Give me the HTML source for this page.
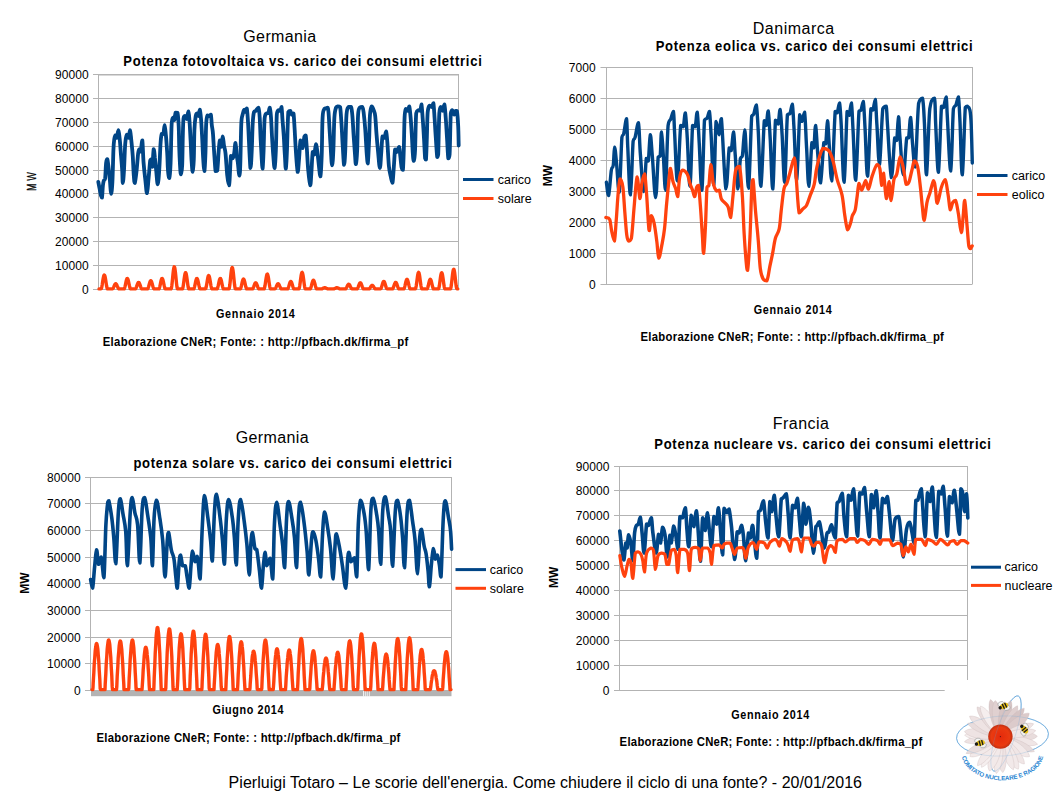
<!DOCTYPE html>
<html><head><meta charset="utf-8"><style>
html,body{margin:0;padding:0;background:#fff;}
svg{display:block;font-family:"Liberation Sans", sans-serif;}
</style></head><body>
<svg width="1058" height="794" viewBox="0 0 1058 794">
<rect width="1058" height="794" fill="#fff"/>
<text x="243.3" y="41.8" font-size="16" font-weight="400" text-anchor="start" letter-spacing="0.38" fill="#000" >Germania</text>
<text x="0" y="0" font-size="14" font-weight="700" textLength="385.48" lengthAdjust="spacing" transform="translate(123.3 65.7) scale(0.93 1)">Potenza fotovoltaica vs. carico dei consumi elettrici</text>
<text x="88.8" y="78.50" font-size="12" font-weight="400" text-anchor="end" letter-spacing="0.1" fill="#000" >90000</text>
<text x="88.8" y="102.50" font-size="12" font-weight="400" text-anchor="end" letter-spacing="0.1" fill="#000" >80000</text>
<text x="88.8" y="126.50" font-size="12" font-weight="400" text-anchor="end" letter-spacing="0.1" fill="#000" >70000</text>
<text x="88.8" y="150.50" font-size="12" font-weight="400" text-anchor="end" letter-spacing="0.1" fill="#000" >60000</text>
<text x="88.8" y="174.50" font-size="12" font-weight="400" text-anchor="end" letter-spacing="0.1" fill="#000" >50000</text>
<text x="88.8" y="197.50" font-size="12" font-weight="400" text-anchor="end" letter-spacing="0.1" fill="#000" >40000</text>
<text x="88.8" y="221.50" font-size="12" font-weight="400" text-anchor="end" letter-spacing="0.1" fill="#000" >30000</text>
<text x="88.8" y="245.50" font-size="12" font-weight="400" text-anchor="end" letter-spacing="0.1" fill="#000" >20000</text>
<text x="88.8" y="269.50" font-size="12" font-weight="400" text-anchor="end" letter-spacing="0.1" fill="#000" >10000</text>
<text x="88.8" y="293.50" font-size="12" font-weight="400" text-anchor="end" letter-spacing="0.1" fill="#000" >0</text>
<g stroke="#b3b3b3" stroke-width="1"><line x1="93" y1="74.5" x2="458.5" y2="74.5"/><line x1="93" y1="98.5" x2="458.5" y2="98.5"/><line x1="93" y1="122.5" x2="458.5" y2="122.5"/><line x1="93" y1="146.5" x2="458.5" y2="146.5"/><line x1="93" y1="170.5" x2="458.5" y2="170.5"/><line x1="93" y1="193.5" x2="458.5" y2="193.5"/><line x1="93" y1="217.5" x2="458.5" y2="217.5"/><line x1="93" y1="241.5" x2="458.5" y2="241.5"/><line x1="93" y1="265.5" x2="458.5" y2="265.5"/><line x1="93" y1="289.5" x2="458.5" y2="289.5"/><line x1="98" y1="75.5" x2="458.5" y2="75.5" stroke-opacity="0.5"/><line x1="98.5" y1="74" x2="98.5" y2="290"/><line x1="458.5" y1="74" x2="458.5" y2="289"/></g>
<line x1="463" y1="179.5" x2="493.5" y2="179.5" stroke="#004586" stroke-width="3"/>
<line x1="463" y1="198.5" x2="493.5" y2="198.5" stroke="#ff420e" stroke-width="3"/>
<text x="497.7" y="183.7" font-size="12.5" font-weight="400" text-anchor="start" letter-spacing="0" fill="#000" >carico</text>
<text x="497.7" y="202.7" font-size="12.5" font-weight="400" text-anchor="start" letter-spacing="0" fill="#000" >solare</text>
<text x="0" y="0" font-size="13.5" font-weight="700" textLength="98.50" lengthAdjust="spacing" transform="translate(215.9 318) scale(0.8 1)">Gennaio 2014</text>
<text x="0" y="0" font-size="13.5" font-weight="700" textLength="363.69" lengthAdjust="spacing" transform="translate(102.7 346) scale(0.84 1)">Elaborazione CNeR; Fonte: : http://pfbach.dk/firma_pf</text>
<text font-size="13" text-anchor="middle" stroke="#000" stroke-width="0.45" transform="translate(36 187.4) rotate(-90) scale(0.64 1)">M</text>
<text font-size="13" text-anchor="middle" stroke="#000" stroke-width="0.2" transform="translate(36 176.4) rotate(-90) scale(0.7 1)">W</text>
<text x="752.8" y="33.9" font-size="16" font-weight="400" text-anchor="start" letter-spacing="0.5" fill="#000" >Danimarca</text>
<text x="0" y="0" font-size="14" font-weight="700" textLength="340.86" lengthAdjust="spacing" transform="translate(655.7 50.8) scale(0.93 1)">Potenza eolica vs. carico dei consumi elettrici</text>
<text x="595.8" y="71.50" font-size="12" font-weight="400" text-anchor="end" letter-spacing="0.1" fill="#000" >7000</text>
<text x="595.8" y="102.50" font-size="12" font-weight="400" text-anchor="end" letter-spacing="0.1" fill="#000" >6000</text>
<text x="595.8" y="133.50" font-size="12" font-weight="400" text-anchor="end" letter-spacing="0.1" fill="#000" >5000</text>
<text x="595.8" y="164.50" font-size="12" font-weight="400" text-anchor="end" letter-spacing="0.1" fill="#000" >4000</text>
<text x="595.8" y="195.50" font-size="12" font-weight="400" text-anchor="end" letter-spacing="0.1" fill="#000" >3000</text>
<text x="595.8" y="226.50" font-size="12" font-weight="400" text-anchor="end" letter-spacing="0.1" fill="#000" >2000</text>
<text x="595.8" y="257.50" font-size="12" font-weight="400" text-anchor="end" letter-spacing="0.1" fill="#000" >1000</text>
<text x="595.8" y="288.50" font-size="12" font-weight="400" text-anchor="end" letter-spacing="0.1" fill="#000" >0</text>
<g stroke="#b3b3b3" stroke-width="1"><line x1="600.5" y1="67.5" x2="972.5" y2="67.5"/><line x1="600.5" y1="98.5" x2="972.5" y2="98.5"/><line x1="600.5" y1="129.5" x2="972.5" y2="129.5"/><line x1="600.5" y1="160.5" x2="972.5" y2="160.5"/><line x1="600.5" y1="191.5" x2="972.5" y2="191.5"/><line x1="600.5" y1="222.5" x2="972.5" y2="222.5"/><line x1="600.5" y1="253.5" x2="972.5" y2="253.5"/><line x1="600.5" y1="284.5" x2="972.5" y2="284.5"/><line x1="606.5" y1="67" x2="606.5" y2="285"/><line x1="972.5" y1="67" x2="972.5" y2="284"/></g>
<line x1="977" y1="175.5" x2="1007.5" y2="175.5" stroke="#004586" stroke-width="3"/>
<line x1="977" y1="194.5" x2="1007.5" y2="194.5" stroke="#ff420e" stroke-width="3"/>
<text x="1011.8" y="179.7" font-size="12.5" font-weight="400" text-anchor="start" letter-spacing="0" fill="#000" >carico</text>
<text x="1011.8" y="198.7" font-size="12.5" font-weight="400" text-anchor="start" letter-spacing="0" fill="#000" >eolico</text>
<text x="0" y="0" font-size="13.5" font-weight="700" textLength="97.50" lengthAdjust="spacing" transform="translate(753.7 313.7) scale(0.8 1)">Gennaio 2014</text>
<text x="0" y="0" font-size="13.5" font-weight="700" textLength="361.19" lengthAdjust="spacing" transform="translate(640.5 341.2) scale(0.84 1)">Elaborazione CNeR; Fonte: : http://pfbach.dk/firma_pf</text>
<text x="0" y="0" font-size="12" font-weight="700" text-anchor="middle" transform="translate(547.6 175.5) rotate(-90)" dominant-baseline="central">MW</text>
<text x="235.8" y="442.5" font-size="16" font-weight="400" text-anchor="start" letter-spacing="0.36" fill="#000" >Germania</text>
<text x="0" y="0" font-size="14" font-weight="700" textLength="342.47" lengthAdjust="spacing" transform="translate(133.4 467.5) scale(0.93 1)">potenza solare vs. carico dei consumi elettrici</text>
<text x="80.8" y="481.50" font-size="12" font-weight="400" text-anchor="end" letter-spacing="0.1" fill="#000" >80000</text>
<text x="80.8" y="507.50" font-size="12" font-weight="400" text-anchor="end" letter-spacing="0.1" fill="#000" >70000</text>
<text x="80.8" y="534.50" font-size="12" font-weight="400" text-anchor="end" letter-spacing="0.1" fill="#000" >60000</text>
<text x="80.8" y="561.50" font-size="12" font-weight="400" text-anchor="end" letter-spacing="0.1" fill="#000" >50000</text>
<text x="80.8" y="587.50" font-size="12" font-weight="400" text-anchor="end" letter-spacing="0.1" fill="#000" >40000</text>
<text x="80.8" y="614.50" font-size="12" font-weight="400" text-anchor="end" letter-spacing="0.1" fill="#000" >30000</text>
<text x="80.8" y="641.50" font-size="12" font-weight="400" text-anchor="end" letter-spacing="0.1" fill="#000" >20000</text>
<text x="80.8" y="667.50" font-size="12" font-weight="400" text-anchor="end" letter-spacing="0.1" fill="#000" >10000</text>
<text x="80.8" y="694.50" font-size="12" font-weight="400" text-anchor="end" letter-spacing="0.1" fill="#000" >0</text>
<g stroke="#b3b3b3" stroke-width="1"><line x1="85" y1="477.5" x2="451.5" y2="477.5"/><line x1="85" y1="503.5" x2="451.5" y2="503.5"/><line x1="85" y1="530.5" x2="451.5" y2="530.5"/><line x1="85" y1="557.5" x2="451.5" y2="557.5"/><line x1="85" y1="583.5" x2="451.5" y2="583.5"/><line x1="85" y1="610.5" x2="451.5" y2="610.5"/><line x1="85" y1="637.5" x2="451.5" y2="637.5"/><line x1="85" y1="663.5" x2="451.5" y2="663.5"/><line x1="85" y1="690.5" x2="451.5" y2="690.5"/><line x1="90.5" y1="477" x2="90.5" y2="691"/><line x1="451.5" y1="477" x2="451.5" y2="690"/></g>
<line x1="455.5" y1="569.6" x2="486" y2="569.6" stroke="#004586" stroke-width="3"/>
<line x1="455.5" y1="588.3" x2="486" y2="588.3" stroke="#ff420e" stroke-width="3"/>
<text x="489.8" y="573.8" font-size="12.5" font-weight="400" text-anchor="start" letter-spacing="0" fill="#000" >carico</text>
<text x="489.8" y="592.5" font-size="12.5" font-weight="400" text-anchor="start" letter-spacing="0" fill="#000" >solare</text>
<text x="0" y="0" font-size="13.5" font-weight="700" textLength="88.62" lengthAdjust="spacing" transform="translate(212.5 714) scale(0.8 1)">Giugno 2014</text>
<text x="0" y="0" font-size="13.5" font-weight="700" textLength="361.79" lengthAdjust="spacing" transform="translate(96.5 741.5) scale(0.84 1)">Elaborazione CNeR; Fonte: : http://pfbach.dk/firma_pf</text>
<text x="0" y="0" font-size="12" font-weight="700" text-anchor="middle" transform="translate(24.6 583.2) rotate(-90)" dominant-baseline="central">MW</text>
<text x="772.8" y="428.7" font-size="16" font-weight="400" text-anchor="start" letter-spacing="0.45" fill="#000" >Francia</text>
<text x="0" y="0" font-size="14" font-weight="700" textLength="362.04" lengthAdjust="spacing" transform="translate(654.2 448.6) scale(0.93 1)">Potenza nucleare vs. carico dei consumi elettrici</text>
<text x="609.5999999999999" y="470.50" font-size="12" font-weight="400" text-anchor="end" letter-spacing="0.1" fill="#000" >90000</text>
<text x="609.5999999999999" y="494.50" font-size="12" font-weight="400" text-anchor="end" letter-spacing="0.1" fill="#000" >80000</text>
<text x="609.5999999999999" y="519.50" font-size="12" font-weight="400" text-anchor="end" letter-spacing="0.1" fill="#000" >70000</text>
<text x="609.5999999999999" y="544.50" font-size="12" font-weight="400" text-anchor="end" letter-spacing="0.1" fill="#000" >60000</text>
<text x="609.5999999999999" y="569.50" font-size="12" font-weight="400" text-anchor="end" letter-spacing="0.1" fill="#000" >50000</text>
<text x="609.5999999999999" y="594.50" font-size="12" font-weight="400" text-anchor="end" letter-spacing="0.1" fill="#000" >40000</text>
<text x="609.5999999999999" y="619.50" font-size="12" font-weight="400" text-anchor="end" letter-spacing="0.1" fill="#000" >30000</text>
<text x="609.5999999999999" y="644.50" font-size="12" font-weight="400" text-anchor="end" letter-spacing="0.1" fill="#000" >20000</text>
<text x="609.5999999999999" y="669.50" font-size="12" font-weight="400" text-anchor="end" letter-spacing="0.1" fill="#000" >10000</text>
<text x="609.5999999999999" y="694.50" font-size="12" font-weight="400" text-anchor="end" letter-spacing="0.1" fill="#000" >0</text>
<g stroke="#b3b3b3" stroke-width="1"><line x1="614" y1="466.5" x2="967.5" y2="466.5"/><line x1="614" y1="490.5" x2="967.5" y2="490.5"/><line x1="614" y1="515.5" x2="967.5" y2="515.5"/><line x1="614" y1="540.5" x2="967.5" y2="540.5"/><line x1="614" y1="565.5" x2="967.5" y2="565.5"/><line x1="614" y1="590.5" x2="967.5" y2="590.5"/><line x1="614" y1="615.5" x2="967.5" y2="615.5"/><line x1="614" y1="640.5" x2="967.5" y2="640.5"/><line x1="614" y1="665.5" x2="967.5" y2="665.5"/><line x1="614" y1="690.5" x2="944.7" y2="690.5"/><line x1="619.5" y1="466" x2="619.5" y2="691"/><line x1="967.5" y1="466" x2="967.5" y2="680"/></g>
<line x1="971" y1="567.2" x2="1001" y2="567.2" stroke="#004586" stroke-width="3"/>
<line x1="971" y1="585.4" x2="1001" y2="585.4" stroke="#ff420e" stroke-width="3"/>
<text x="1004.6" y="571.4" font-size="12.5" font-weight="400" text-anchor="start" letter-spacing="0" fill="#000" >carico</text>
<text x="1004.6" y="589.6" font-size="12.5" font-weight="400" text-anchor="start" letter-spacing="0" fill="#000" >nucleare</text>
<text x="0" y="0" font-size="13.5" font-weight="700" textLength="97.50" lengthAdjust="spacing" transform="translate(731.2 718.7) scale(0.8 1)">Gennaio 2014</text>
<text x="0" y="0" font-size="13.5" font-weight="700" textLength="360.36" lengthAdjust="spacing" transform="translate(619.6 746.2) scale(0.84 1)">Elaborazione CNeR; Fonte: : http://pfbach.dk/firma_pf</text>
<text x="0" y="0" font-size="12" font-weight="700" text-anchor="middle" transform="translate(553.5 577.4) rotate(-90)" dominant-baseline="central">MW</text>
<text x="228.6" y="787.9" font-size="16" font-weight="400" text-anchor="start" letter-spacing="0.03" fill="#000" >Pierluigi Totaro – Le scorie dell'energia. Come chiudere il ciclo di una fonte? - 20/01/2016</text>
<path d="M98.3,181.9 C98.5,183.0 99.0,185.7 99.5,188.2 C100.0,190.7 100.5,194.0 101.0,195.7 C101.5,197.4 101.7,197.6 102.0,197.6 C102.3,195.8 102.6,188.7 102.9,185.6 C103.2,182.5 103.4,181.8 103.8,180.6 C104.2,179.4 104.7,180.6 105.1,178.7 C105.5,175.5 105.7,166.5 106.1,163.0 C106.5,159.5 106.8,159.2 107.3,159.2 C107.8,160.1 108.1,164.1 108.6,168.0 C109.1,171.9 109.5,176.0 109.9,180.6 C110.4,185.2 110.6,193.6 111.1,193.8 C111.5,193.8 112.0,189.7 112.4,181.9 C112.8,174.1 113.1,158.1 113.4,150.4 C113.7,142.7 113.9,141.7 114.3,139.0 C114.7,136.3 115.0,135.5 115.5,135.3 C116.0,135.3 116.3,137.8 116.8,137.8 C117.3,136.9 117.9,130.2 118.4,130.2 C118.9,130.4 119.2,134.7 119.7,139.0 C120.2,143.3 120.5,148.5 120.9,154.2 C121.4,159.9 121.9,165.3 122.2,170.5 C122.5,175.7 122.5,183.1 122.8,183.1 C123.1,183.1 123.6,177.5 124.0,170.5 C124.4,163.5 124.7,150.6 125.2,144.1 C125.7,137.6 126.3,135.7 126.9,134.6 C127.5,134.6 127.9,137.8 128.5,137.8 C129.1,137.0 129.5,130.2 130.0,130.2 C130.5,130.6 130.8,135.5 131.3,140.3 C131.8,145.1 132.4,150.3 132.8,156.7 C133.2,163.1 133.4,170.8 133.8,175.6 C134.2,180.4 134.3,183.1 134.8,183.1 C135.3,182.2 136.0,175.9 136.6,170.5 C137.2,165.1 137.7,156.8 138.2,152.9 C138.7,149.1 139.1,149.3 139.5,149.1 C139.9,149.1 140.2,151.6 140.7,151.6 C141.2,150.0 141.8,140.3 142.3,140.3 C142.8,142.4 143.0,155.7 143.6,163.0 C144.2,170.3 144.8,175.2 145.4,180.6 C146.0,186.0 146.4,193.2 147.0,193.2 C147.6,192.8 148.0,184.0 148.6,178.1 C149.2,172.2 149.7,163.9 150.2,160.5 C150.7,159.2 151.0,159.2 151.4,159.2 C151.8,160.3 152.0,166.8 152.4,166.8 C152.8,165.0 153.2,150.7 153.7,149.1 C154.1,149.1 154.5,154.0 154.9,157.9 C155.3,161.8 155.7,165.7 156.2,170.5 C156.7,175.3 157.2,184.4 157.7,184.4 C158.2,184.4 158.7,177.8 159.2,170.5 C159.7,163.2 160.1,150.7 160.5,144.1 C160.9,137.5 161.2,135.8 161.7,134.0 C162.2,134.0 162.9,134.0 163.4,134.0 C163.9,132.4 164.2,125.2 164.6,125.2 C165.0,125.4 165.4,130.3 165.9,135.3 C166.4,140.3 166.8,146.6 167.2,152.9 C167.6,159.2 167.6,166.0 168.0,170.5 C168.4,175.0 168.8,178.1 169.3,178.1 C169.8,176.8 170.2,172.5 170.6,163.0 C171.0,153.5 171.2,133.4 171.6,125.2 C172.0,117.6 172.6,118.5 173.1,117.6 C173.6,117.6 173.9,120.2 174.3,120.2 C174.8,119.3 175.0,113.9 175.6,112.6 C176.2,112.6 176.9,112.6 177.5,112.8 C178.1,115.3 178.4,120.2 178.7,126.3 C179.0,132.4 179.0,139.9 179.2,146.8 C179.4,153.7 179.7,159.8 180.0,164.8 C180.3,169.8 180.5,174.4 180.9,174.4 C181.3,174.4 181.9,171.6 182.2,164.8 C182.5,158.0 182.6,144.8 182.8,136.5 C183.0,128.2 183.1,122.3 183.5,118.6 C183.9,116.0 184.6,116.0 185.2,116.0 C185.8,116.1 186.1,119.2 186.7,119.2 C187.3,118.4 187.9,111.5 188.4,111.5 C188.9,111.8 189.1,115.9 189.5,121.1 C189.9,126.3 190.2,133.2 190.6,140.4 C191.0,147.6 191.2,155.2 191.6,160.9 C192.0,166.6 192.3,171.9 192.7,171.9 C193.1,171.7 193.5,167.2 193.8,159.7 C194.1,152.2 194.1,138.0 194.4,130.1 C194.7,122.2 195.2,119.0 195.7,116.0 C196.2,113.4 196.7,113.4 197.2,113.4 C197.7,113.4 198.0,116.0 198.5,116.0 C199.0,115.3 199.3,109.6 199.8,109.6 C200.3,110.3 200.7,115.0 201.1,119.8 C201.5,124.6 201.7,129.8 202.1,136.5 C202.5,143.2 202.7,150.9 203.1,157.1 C203.5,163.3 204.0,171.2 204.4,171.2 C204.8,170.3 205.2,160.6 205.5,152.0 C205.8,143.4 205.8,130.3 206.2,123.7 C206.6,117.1 207.0,116.7 207.5,115.3 C208.0,115.3 208.6,116.0 209.2,116.0 C209.8,115.9 210.4,114.7 210.9,114.7 C211.4,116.3 211.4,121.5 211.8,125.0 C212.2,128.5 212.6,128.7 213.0,134.0 C213.4,139.3 213.8,147.8 214.3,154.5 C214.8,161.2 215.1,168.3 215.6,171.2 C216.1,171.2 216.8,171.2 217.3,170.6 C217.8,167.1 218.2,157.4 218.6,152.0 C219.0,146.6 219.4,141.3 219.8,140.4 C220.2,140.4 220.6,146.8 221.1,146.8 C221.6,146.1 222.2,136.7 222.7,136.5 C223.2,136.5 223.5,142.5 224.0,145.5 C224.5,148.5 224.9,147.9 225.5,153.2 C226.1,158.5 226.6,169.3 227.2,175.1 C227.8,180.9 228.6,185.4 229.1,185.4 C229.6,184.5 229.8,175.2 230.1,169.9 C230.4,164.6 230.5,157.9 231.0,155.8 C231.5,155.8 232.1,158.4 232.7,158.4 C233.3,157.9 233.7,156.0 234.2,153.2 C234.7,150.4 235.0,143.0 235.5,143.0 C236.0,143.5 236.4,152.3 236.8,155.8 C237.2,159.3 237.3,158.6 237.8,162.2 C238.3,165.8 238.9,175.7 239.4,175.7 C239.9,175.5 240.1,170.3 240.4,160.9 C240.7,151.5 240.9,132.0 241.3,123.7 C241.7,115.4 242.1,117.2 242.6,114.7 C243.1,112.2 243.7,110.1 244.3,109.6 C244.9,109.6 245.4,112.1 245.8,112.1 C246.2,111.9 246.4,108.3 246.8,108.3 C247.2,110.4 247.5,113.0 248.1,123.7 C248.7,134.4 249.8,162.9 250.4,168.0 C251.0,168.0 251.3,160.0 251.7,152.0 C252.1,144.0 252.3,130.9 252.7,123.7 C253.1,116.5 253.4,114.4 254.0,112.1 C254.6,110.8 255.0,111.6 255.8,110.8 C256.6,110.0 257.7,107.6 258.4,107.6 C259.1,108.8 259.3,111.4 259.7,117.3 C260.1,123.2 260.3,133.0 260.7,140.4 C261.1,147.8 261.4,153.3 261.7,158.4 C262.0,163.5 262.3,168.7 262.6,168.7 C262.9,167.8 263.1,162.2 263.5,153.2 C263.9,144.2 264.1,125.8 264.6,118.6 C265.1,113.4 265.8,114.4 266.5,113.4 C267.2,112.8 267.8,113.4 268.4,112.8 C269.0,111.8 269.2,107.6 269.7,107.6 C270.2,108.4 270.6,112.1 271.0,117.3 C271.4,122.5 271.6,129.6 272.0,136.5 C272.4,143.4 272.8,150.1 273.3,155.8 C273.8,161.5 274.1,168.0 274.6,168.0 C275.1,166.8 275.5,159.0 275.9,149.4 C276.3,139.8 276.4,121.8 276.8,114.7 C277.2,110.2 277.8,110.9 278.4,110.2 C279.0,110.2 279.6,110.8 280.2,110.8 C280.8,110.2 281.1,107.0 281.5,107.0 C281.9,108.6 282.1,114.5 282.5,119.8 C282.9,125.1 283.4,130.0 283.8,136.5 C284.2,143.0 284.5,150.0 284.9,155.8 C285.3,161.6 285.4,168.7 285.8,168.7 C286.2,167.5 286.6,159.6 287.0,149.4 C287.4,139.2 287.7,119.0 288.3,112.1 C288.9,110.8 289.6,110.8 290.2,110.8 C290.8,111.3 291.2,114.2 291.8,114.7 C292.4,114.7 293.0,113.4 293.5,113.4 C294.0,116.2 294.2,122.9 294.7,130.1 C295.1,137.3 295.5,145.7 296.0,153.2 C296.5,160.7 297.2,170.7 297.7,171.9 C298.2,171.9 298.5,165.4 299.0,159.7 C299.5,154.0 299.9,142.5 300.5,140.4 C301.1,140.4 301.8,148.1 302.5,148.1 C303.2,147.4 303.8,138.8 304.4,136.5 C305.0,135.3 305.2,135.3 305.7,135.3 C306.1,137.6 306.4,143.2 306.9,149.4 C307.3,155.6 307.6,163.4 308.2,169.9 C308.8,176.4 309.6,184.9 310.2,185.4 C310.8,185.4 310.9,178.5 311.4,172.5 C311.8,166.5 312.2,155.2 312.7,152.0 C313.2,152.0 313.8,154.5 314.4,154.5 C315.0,153.1 315.3,144.4 315.9,144.2 C316.5,144.2 317.0,149.5 317.5,153.2 C318.0,156.9 318.3,160.6 318.8,164.8 C319.3,169.0 319.9,176.4 320.4,176.4 C320.9,174.8 321.3,166.4 321.7,155.8 C322.1,145.2 322.1,125.7 322.6,117.3 C323.1,108.9 323.8,110.5 324.4,108.9 C325.0,108.3 325.4,108.5 326.0,108.3 C326.6,108.1 327.2,107.6 327.6,107.6 C328.1,108.3 328.1,108.0 328.5,112.1 C328.9,116.1 329.2,123.4 329.6,130.1 C330.0,136.8 330.4,143.0 330.8,149.4 C331.2,155.8 331.6,165.4 332.1,165.4 C332.6,165.4 333.0,158.1 333.4,149.4 C333.8,140.7 333.9,124.8 334.4,117.3 C334.9,109.8 335.4,109.6 336.0,107.6 C336.6,106.4 337.2,106.5 337.9,106.4 C338.6,106.4 339.5,106.4 340.1,107.0 C340.7,109.9 340.9,115.5 341.4,122.4 C341.9,129.3 342.2,137.9 342.7,145.5 C343.2,153.1 343.6,163.6 344.0,164.8 C344.4,164.8 344.8,161.0 345.2,152.0 C345.6,143.0 345.9,122.8 346.5,114.7 C347.1,107.0 347.8,108.4 348.6,107.0 C349.4,107.0 350.4,107.0 351.1,107.0 C351.8,108.6 351.9,110.7 352.4,116.0 C352.9,121.3 353.2,129.6 353.7,136.5 C354.2,143.4 354.6,149.5 355.0,154.5 C355.4,159.5 355.5,164.2 355.9,164.2 C356.3,163.3 356.8,158.3 357.2,149.4 C357.6,140.5 357.6,122.2 358.1,114.7 C358.6,107.6 359.0,109.0 359.8,107.6 C360.6,107.0 361.6,107.0 362.3,107.0 C363.0,107.8 363.1,107.9 363.6,112.1 C364.1,116.3 364.8,122.9 365.3,130.1 C365.8,137.3 366.2,146.0 366.6,152.0 C367.1,158.0 367.4,163.5 367.8,163.5 C368.2,161.4 368.7,149.2 369.1,140.4 C369.5,131.6 369.5,120.8 370.0,114.7 C370.5,108.6 371.1,107.3 371.7,106.4 C372.3,106.4 372.9,107.9 373.5,109.6 C374.1,111.3 374.7,111.6 375.2,116.0 C375.7,120.4 376.0,127.5 376.5,134.0 C377.0,140.5 377.5,145.9 378.1,152.0 C378.7,158.1 379.3,168.0 379.9,168.0 C380.5,168.0 380.8,157.7 381.3,152.0 C381.8,146.3 381.9,139.1 382.5,136.5 C383.1,136.5 383.9,137.8 384.5,137.8 C385.1,136.9 385.6,131.4 386.1,131.4 C386.6,132.3 386.9,136.8 387.4,143.0 C387.9,149.2 388.3,159.9 388.9,166.1 C389.5,172.3 390.4,174.7 391.0,177.7 C391.6,180.7 392.0,182.8 392.5,182.8 C393.0,180.9 393.3,173.4 393.8,167.4 C394.3,161.4 394.6,152.2 395.1,149.4 C395.6,149.4 395.9,152.0 396.6,152.0 C397.3,151.5 398.4,146.8 399.1,146.8 C399.8,147.7 399.9,153.4 400.4,157.1 C400.8,160.8 401.2,165.1 401.6,167.4 C402.1,169.7 402.5,169.9 402.9,169.9 C403.3,166.7 403.5,158.9 403.8,149.4 C404.1,139.9 404.2,124.6 404.6,117.3 C405.0,110.0 405.3,110.1 405.9,108.9 C406.5,108.9 407.1,110.8 407.7,110.8 C408.3,110.3 408.8,106.4 409.3,106.4 C409.8,107.6 410.1,111.9 410.6,117.3 C411.1,122.7 411.5,130.0 411.9,136.5 C412.3,143.0 412.5,148.8 412.8,153.2 C413.1,157.6 413.4,160.9 413.8,160.9 C414.2,160.2 414.7,158.0 415.1,149.4 C415.5,140.8 415.6,120.5 416.2,113.4 C416.8,110.2 417.6,110.7 418.3,110.2 C419.0,110.2 419.7,110.8 420.3,110.8 C420.9,109.8 421.1,104.4 421.5,104.4 C421.9,106.0 422.3,113.3 422.8,119.8 C423.3,126.3 423.7,133.5 424.1,140.4 C424.5,147.3 424.8,154.9 425.1,158.4 C425.4,159.7 425.7,159.7 426.0,159.7 C426.3,155.8 426.6,145.1 426.9,136.5 C427.2,127.9 427.2,117.6 427.7,112.1 C428.2,106.6 428.8,106.6 429.5,105.7 C430.2,105.7 431.1,107.0 431.8,107.0 C432.5,106.5 432.9,103.1 433.4,103.1 C433.9,105.4 434.2,113.3 434.7,119.8 C435.1,126.3 435.4,132.4 435.9,139.1 C436.3,145.8 436.8,154.3 437.2,157.1 C437.6,157.1 437.8,157.1 438.2,154.5 C438.6,146.6 438.8,122.0 439.3,113.4 C439.8,107.0 440.2,107.5 440.8,107.0 C441.4,107.0 442.1,110.8 442.7,110.8 C443.3,110.3 443.9,104.4 444.4,104.4 C444.9,105.6 445.2,111.3 445.7,117.3 C446.2,123.3 446.5,130.4 447.0,137.8 C447.5,145.2 447.8,155.4 448.3,158.4 C448.8,158.4 449.2,158.4 449.6,154.5 C450.1,146.4 450.3,121.4 450.8,113.4 C451.3,110.2 451.8,110.2 452.4,110.2 C453.0,110.4 453.7,114.6 454.3,114.7 C454.9,114.7 455.1,111.5 455.6,110.8 C456.1,110.8 456.4,110.8 456.9,110.8 C457.4,113.6 457.9,120.1 458.2,126.3 C458.5,132.5 458.6,142.0 458.7,145.5" fill="none" stroke="#004586" stroke-width="3.8" stroke-linejoin="round" stroke-linecap="round"/>
<polyline points="99.0,288.9 99.4,288.9 99.8,288.9 100.2,288.9 100.6,288.9 101.0,288.9 101.4,288.5 101.8,286.9 102.2,284.7 102.6,282.1 103.0,279.5 103.4,277.3 103.8,275.7 104.2,275.0 104.6,275.3 105.0,276.4 105.4,278.4 105.8,280.8 106.2,283.4 106.6,285.9 107.0,287.8 107.4,288.8 107.8,288.9 108.2,288.9 108.6,288.9 109.0,288.9 109.4,288.9 109.8,288.9 110.2,288.9 110.6,288.9 111.0,288.9 111.4,288.9 111.8,288.9 112.2,288.9 112.6,288.9 113.0,288.5 113.4,287.8 113.8,286.9 114.2,285.9 114.6,285.0 115.0,284.2 115.4,283.8 115.8,283.7 116.2,284.0 116.6,284.6 117.0,285.4 117.4,286.4 117.8,287.3 118.2,288.2 118.6,288.7 119.0,288.9 119.4,288.9 119.8,288.9 120.2,288.9 120.6,288.9 121.0,288.9 121.4,288.9 121.8,288.9 122.2,288.9 122.6,288.9 123.0,288.9 123.4,288.9 123.8,288.9 124.2,288.9 124.6,288.1 125.0,286.6 125.4,284.8 125.8,282.8 126.2,280.9 126.6,279.5 127.0,278.6 127.4,278.4 127.8,279.0 128.2,280.1 128.6,281.8 129.0,283.8 129.4,285.7 129.8,287.4 130.2,288.6 130.6,288.9 131.0,288.9 131.4,288.9 131.8,288.9 132.2,288.9 132.6,288.9 133.0,288.9 133.4,288.9 133.8,288.9 134.2,288.9 134.6,288.9 135.0,288.9 135.4,288.9 135.8,288.6 136.2,287.7 136.6,286.6 137.0,285.4 137.4,284.2 137.8,283.3 138.2,282.6 138.6,282.4 139.0,282.6 139.4,283.3 139.8,284.2 140.2,285.4 140.6,286.6 141.0,287.7 141.4,288.6 141.8,288.9 142.2,288.9 142.6,288.9 143.0,288.9 143.4,288.9 143.8,288.9 144.2,288.9 144.6,288.9 145.0,288.9 145.4,288.9 145.8,288.9 146.2,288.9 146.6,288.9 147.0,288.9 147.4,288.9 147.8,288.8 148.2,288.0 148.6,286.8 149.0,285.3 149.4,283.7 149.8,282.4 150.2,281.3 150.6,280.8 151.0,280.8 151.4,281.3 151.8,282.4 152.2,283.7 152.6,285.3 153.0,286.8 153.4,288.0 153.8,288.8 154.2,288.9 154.6,288.9 155.0,288.9 155.4,288.9 155.8,288.9 156.2,288.9 156.6,288.9 157.0,288.9 157.4,288.9 157.8,288.9 158.2,288.9 158.6,288.9 159.0,288.9 159.4,288.1 159.8,286.6 160.2,284.8 160.6,282.8 161.0,280.9 161.4,279.5 161.8,278.6 162.2,278.4 162.6,279.0 163.0,280.1 163.4,281.8 163.8,283.8 164.2,285.7 164.6,287.4 165.0,288.6 165.4,288.9 165.8,288.9 166.2,288.9 166.6,288.9 167.0,288.9 167.4,288.9 167.8,288.9 168.2,288.9 168.6,288.9 169.0,288.9 169.4,288.9 169.8,288.9 170.2,288.9 170.6,288.9 171.0,288.9 171.4,288.2 171.8,285.8 172.2,282.2 172.6,278.1 173.0,274.0 173.4,270.5 173.8,268.0 174.2,266.8 174.6,267.2 175.0,269.1 175.4,272.1 175.8,276.0 176.2,280.2 176.6,284.1 177.0,287.2 177.4,288.8 177.8,288.9 178.2,288.9 178.6,288.9 179.0,288.9 179.4,288.9 179.8,288.9 180.2,288.9 180.6,288.9 181.0,288.9 181.4,288.9 181.8,288.9 182.2,288.9 182.6,288.7 183.0,287.2 183.4,284.7 183.8,281.8 184.2,278.7 184.6,276.0 185.0,273.9 185.4,272.8 185.8,272.8 186.2,273.9 186.6,276.0 187.0,278.7 187.4,281.8 187.8,284.7 188.2,287.2 188.6,288.7 189.0,288.9 189.4,288.9 189.8,288.9 190.2,288.9 190.6,288.9 191.0,288.9 191.4,288.9 191.8,288.9 192.2,288.9 192.6,288.9 193.0,288.9 193.4,288.9 193.8,288.9 194.2,288.1 194.6,286.6 195.0,284.8 195.4,282.8 195.8,280.9 196.2,279.5 196.6,278.6 197.0,278.4 197.4,279.0 197.8,280.1 198.2,281.8 198.6,283.8 199.0,285.7 199.4,287.4 199.8,288.6 200.2,288.9 200.6,288.9 201.0,288.9 201.4,288.9 201.8,288.9 202.2,288.9 202.6,288.9 203.0,288.9 203.4,288.9 203.8,288.9 204.2,288.9 204.6,288.9 205.0,288.9 205.4,288.9 205.8,288.5 206.2,287.0 206.6,284.9 207.0,282.4 207.4,279.9 207.8,277.7 208.2,276.2 208.6,275.5 209.0,275.8 209.4,276.9 209.8,278.7 210.2,281.1 210.6,283.6 211.0,286.0 211.4,287.9 211.8,288.8 212.2,288.9 212.6,288.9 213.0,288.9 213.4,288.9 213.8,288.9 214.2,288.9 214.6,288.9 215.0,288.9 215.4,288.9 215.8,288.9 216.2,288.9 216.6,288.9 217.0,288.9 217.4,288.6 217.8,287.4 218.2,285.7 218.6,283.8 219.0,281.8 219.4,280.1 219.8,279.0 220.2,278.4 220.6,278.6 221.0,279.5 221.4,280.9 221.8,282.8 222.2,284.8 222.6,286.6 223.0,288.1 223.4,288.9 223.8,288.9 224.2,288.9 224.6,288.9 225.0,288.9 225.4,288.9 225.8,288.9 226.2,288.9 226.6,288.9 227.0,288.9 227.4,288.9 227.8,288.9 228.2,288.9 228.6,288.9 229.0,288.9 229.4,287.8 229.8,285.1 230.2,281.5 230.6,277.4 231.0,273.5 231.4,270.3 231.8,268.2 232.2,267.5 232.6,268.2 233.0,270.3 233.4,273.5 233.8,277.4 234.2,281.5 234.6,285.1 235.0,287.8 235.4,288.9 235.8,288.9 236.2,288.9 236.6,288.9 237.0,288.9 237.4,288.9 237.8,288.9 238.2,288.9 238.6,288.9 239.0,288.9 239.4,288.9 239.8,288.9 240.2,288.9 240.6,288.6 241.0,287.5 241.4,285.9 241.8,284.1 242.2,282.2 242.6,280.6 243.0,279.5 243.4,279.0 243.8,279.2 244.2,280.0 244.6,281.4 245.0,283.1 245.4,285.0 245.8,286.8 246.2,288.1 246.6,288.9 247.0,288.9 247.4,288.9 247.8,288.9 248.2,288.9 248.6,288.9 249.0,288.9 249.4,288.9 249.8,288.9 250.2,288.9 250.6,288.9 251.0,288.9 251.4,288.9 251.8,288.9 252.2,288.9 252.6,288.9 253.0,288.4 253.4,287.6 253.8,286.5 254.2,285.3 254.6,284.3 255.0,283.4 255.4,282.9 255.8,282.8 256.2,283.1 256.6,283.8 257.0,284.8 257.4,285.9 257.8,287.1 258.2,288.0 258.6,288.7 259.0,288.9 259.4,288.9 259.8,288.9 260.2,288.9 260.6,288.9 261.0,288.9 261.4,288.9 261.8,288.9 262.2,288.9 262.6,288.9 263.0,288.9 263.4,288.9 263.8,288.9 264.2,288.8 264.6,287.7 265.0,285.7 265.4,283.1 265.8,280.3 266.2,277.7 266.6,275.6 267.0,274.4 267.4,274.1 267.8,274.9 268.2,276.6 268.6,278.9 269.0,281.7 269.4,284.4 269.8,286.8 270.2,288.4 270.6,288.9 271.0,288.9 271.4,288.9 271.8,288.9 272.2,288.9 272.6,288.9 273.0,288.9 273.4,288.9 273.8,288.9 274.2,288.9 274.6,288.9 275.0,288.9 275.4,288.5 275.8,287.8 276.2,286.9 276.6,285.9 277.0,285.0 277.4,284.2 277.8,283.8 278.2,283.7 278.6,284.0 279.0,284.6 279.4,285.4 279.8,286.4 280.2,287.3 280.6,288.2 281.0,288.7 281.4,288.9 281.8,288.9 282.2,288.9 282.6,288.9 283.0,288.9 283.4,288.9 283.8,288.9 284.2,288.9 284.6,288.9 285.0,288.9 285.4,288.9 285.8,288.9 286.2,288.9 286.6,288.9 287.0,288.9 287.4,288.9 287.8,288.8 288.2,288.1 288.6,287.0 289.0,285.6 289.4,284.2 289.8,282.9 290.2,282.0 290.6,281.5 291.0,281.5 291.4,282.0 291.8,282.9 292.2,284.2 292.6,285.6 293.0,287.0 293.4,288.1 293.8,288.8 294.2,288.9 294.6,288.9 295.0,288.9 295.4,288.9 295.8,288.9 296.2,288.9 296.6,288.9 297.0,288.9 297.4,288.9 297.8,288.9 298.2,288.9 298.6,288.9 299.0,288.8 299.4,287.6 299.8,285.3 300.2,282.4 300.6,279.3 301.0,276.4 301.4,274.1 301.8,272.7 302.2,272.4 302.6,273.3 303.0,275.1 303.4,277.8 303.8,280.8 304.2,283.9 304.6,286.6 305.0,288.4 305.4,288.9 305.8,288.9 306.2,288.9 306.6,288.9 307.0,288.9 307.4,288.9 307.8,288.9 308.2,288.9 308.6,288.9 309.0,288.9 309.4,288.9 309.8,288.9 310.2,288.9 310.6,288.4 311.0,287.4 311.4,285.9 311.8,284.2 312.2,282.7 312.6,281.4 313.0,280.5 313.4,280.2 313.8,280.5 314.2,281.4 314.6,282.7 315.0,284.2 315.4,285.9 315.8,287.4 316.2,288.4 316.6,288.9 317.0,288.9 317.4,288.9 317.8,288.9 318.2,288.9 318.6,288.9 319.0,288.9 319.4,288.9 319.8,288.9 320.2,288.9 320.6,288.9 321.0,288.9 321.4,288.9 321.8,288.9 322.2,288.7 322.6,288.5 323.0,288.3 323.4,288.1 323.8,287.9 324.2,287.8 324.6,287.7 325.0,287.7 325.4,287.8 325.8,288.0 326.2,288.2 326.6,288.4 327.0,288.6 327.4,288.8 327.8,288.9 328.2,288.9 328.6,288.9 329.0,288.9 329.4,288.9 329.8,288.9 330.2,288.9 330.6,288.9 331.0,288.9 331.4,288.9 331.8,288.9 332.2,288.9 332.6,288.9 333.0,288.9 333.4,288.9 333.8,288.9 334.2,288.8 334.6,288.6 335.0,288.4 335.4,288.2 335.8,288.0 336.2,287.8 336.6,287.7 337.0,287.7 337.4,287.8 337.8,287.9 338.2,288.1 338.6,288.3 339.0,288.5 339.4,288.7 339.8,288.9 340.2,288.9 340.6,288.9 341.0,288.9 341.4,288.9 341.8,288.9 342.2,288.9 342.6,288.9 343.0,288.9 343.4,288.9 343.8,288.9 344.2,288.9 344.6,288.9 345.0,288.9 345.4,288.9 345.8,288.8 346.2,288.2 346.6,287.5 347.0,286.6 347.4,285.7 347.8,285.0 348.2,284.5 348.6,284.2 349.0,284.3 349.4,284.7 349.8,285.3 350.2,286.2 350.6,287.1 351.0,287.9 351.4,288.5 351.8,288.9 352.2,288.9 352.6,288.9 353.0,288.9 353.4,288.9 353.8,288.9 354.2,288.9 354.6,288.9 355.0,288.9 355.4,288.9 355.8,288.9 356.2,288.9 356.6,288.9 357.0,288.9 357.4,288.7 357.8,288.0 358.2,287.1 358.6,285.9 359.0,284.8 359.4,283.8 359.8,283.1 360.2,282.8 360.6,282.9 361.0,283.4 361.4,284.3 361.8,285.3 362.2,286.5 362.6,287.6 363.0,288.4 363.4,288.9 363.8,288.9 364.2,288.9 364.6,288.9 365.0,288.9 365.4,288.9 365.8,288.9 366.2,288.9 366.6,288.9 367.0,288.9 367.4,288.9 367.8,288.9 368.2,288.9 368.6,288.9 369.0,288.9 369.4,288.7 369.8,288.3 370.2,287.7 370.6,287.0 371.0,286.4 371.4,285.9 371.8,285.5 372.2,285.4 372.6,285.5 373.0,285.9 373.4,286.4 373.8,287.0 374.2,287.7 374.6,288.3 375.0,288.7 375.4,288.9 375.8,288.9 376.2,288.9 376.6,288.9 377.0,288.9 377.4,288.9 377.8,288.9 378.2,288.9 378.6,288.9 379.0,288.9 379.4,288.9 379.8,288.9 380.2,288.9 380.6,288.9 381.0,288.5 381.4,287.6 381.8,286.3 382.2,284.9 382.6,283.5 383.0,282.4 383.4,281.7 383.8,281.4 384.2,281.7 384.6,282.4 385.0,283.5 385.4,284.9 385.8,286.3 386.2,287.6 386.6,288.5 387.0,288.9 387.4,288.9 387.8,288.9 388.2,288.9 388.6,288.9 389.0,288.9 389.4,288.9 389.8,288.9 390.2,288.9 390.6,288.9 391.0,288.9 391.4,288.9 391.8,288.9 392.2,288.9 392.6,288.9 393.0,288.4 393.4,287.5 393.8,286.3 394.2,285.1 394.6,284.0 395.0,283.1 395.4,282.5 395.8,282.4 396.2,282.7 396.6,283.5 397.0,284.5 397.4,285.7 397.8,286.9 398.2,288.0 398.6,288.7 399.0,288.9 399.4,288.9 399.8,288.9 400.2,288.9 400.6,288.9 401.0,288.9 401.4,288.9 401.8,288.9 402.2,288.9 402.6,288.9 403.0,288.9 403.4,288.9 403.8,288.9 404.2,288.4 404.6,287.2 405.0,285.6 405.4,283.8 405.8,282.0 406.2,280.6 406.6,279.6 407.0,279.3 407.4,279.6 407.8,280.6 408.2,282.0 408.6,283.8 409.0,285.6 409.4,287.2 409.8,288.4 410.2,288.9 410.6,288.9 411.0,288.9 411.4,288.9 411.8,288.9 412.2,288.9 412.6,288.9 413.0,288.9 413.4,288.9 413.8,288.9 414.2,288.9 414.6,288.9 415.0,288.9 415.4,288.9 415.8,288.0 416.2,286.0 416.6,283.2 417.0,280.1 417.4,277.1 417.8,274.6 418.2,273.0 418.6,272.4 419.0,273.0 419.4,274.6 419.8,277.1 420.2,280.1 420.6,283.2 421.0,286.0 421.4,288.0 421.8,288.9 422.2,288.9 422.6,288.9 423.0,288.9 423.4,288.9 423.8,288.9 424.2,288.9 424.6,288.9 425.0,288.9 425.4,288.9 425.8,288.9 426.2,288.9 426.6,288.9 427.0,288.9 427.4,288.6 427.8,287.5 428.2,286.0 428.6,284.2 429.0,282.4 429.4,280.9 429.8,279.8 430.2,279.3 430.6,279.5 431.0,280.3 431.4,281.6 431.8,283.3 432.2,285.1 432.6,286.8 433.0,288.1 433.4,288.9 433.8,288.9 434.2,288.9 434.6,288.9 435.0,288.9 435.4,288.9 435.8,288.9 436.2,288.9 436.6,288.9 437.0,288.9 437.4,288.9 437.8,288.9 438.2,288.9 438.6,288.8 439.0,287.6 439.4,285.4 439.8,282.5 440.2,279.5 440.6,276.6 441.0,274.4 441.4,273.0 441.8,272.7 442.2,273.6 442.6,275.4 443.0,278.0 443.4,281.0 443.8,284.0 444.2,286.6 444.6,288.4 445.0,288.9 445.4,288.9 445.8,288.9 446.2,288.9 446.6,288.9 447.0,288.9 447.4,288.9 447.8,288.9 448.2,288.9 448.6,288.9 449.0,288.9 449.4,288.9 449.8,288.9 450.2,288.9 450.6,288.8 451.0,287.4 451.4,284.6 451.8,281.1 452.2,277.4 452.6,274.0 453.0,271.2 453.4,269.6 453.8,269.2 454.2,270.2 454.6,272.5 455.0,275.6 455.4,279.3 455.8,283.0 456.2,286.1 456.6,288.3 457.0,288.9 457.4,288.9 457.8,288.9" fill="none" stroke="#ff420e" stroke-width="3.4" stroke-linejoin="round" stroke-linecap="round"/>
<path d="M606.4,182.3 C606.8,184.7 607.7,195.5 608.6,195.5 C609.5,193.4 610.5,175.9 611.3,170.4 C612.1,165.1 612.7,169.3 613.3,165.1 C613.9,160.9 614.0,147.4 614.6,147.2 C615.2,147.2 615.8,155.7 616.6,163.8 C617.4,171.9 618.2,192.2 619.2,192.2 C620.2,187.4 621.1,147.9 621.9,137.3 C622.7,133.3 623.0,136.6 623.8,133.3 C624.6,130.0 625.8,118.8 626.5,118.8 C627.2,121.4 627.1,134.2 627.8,147.9 C628.5,161.6 629.4,194.8 630.4,194.8 C631.4,193.6 632.3,151.7 633.1,141.3 C633.9,137.3 634.1,140.6 635.1,137.3 C636.1,134.0 637.4,122.8 638.4,122.8 C639.4,125.9 639.4,142.1 640.4,154.5 C641.4,166.9 642.6,190.8 643.7,191.5 C644.8,191.5 645.5,164.0 646.3,158.5 C647.1,158.5 647.6,161.1 648.3,161.1 C649.0,156.8 649.6,135.7 650.3,134.7 C651.0,134.7 651.3,144.5 652.3,155.8 C653.3,167.1 654.5,197.2 655.6,197.5 C656.7,197.5 657.4,164.7 658.2,157.2 C659.0,155.8 659.6,157.2 660.2,155.8 C660.8,151.3 660.9,132.0 661.5,132.0 C662.1,132.5 662.8,148.0 663.5,158.5 C664.2,169.0 664.7,190.2 665.5,190.2 C666.3,184.2 667.1,138.3 668.1,125.4 C669.1,118.8 669.8,121.3 670.8,118.8 C671.8,116.3 672.7,111.5 673.4,111.5 C674.1,114.4 674.0,122.2 674.7,134.7 C675.4,147.2 676.3,181.0 677.4,181.0 C678.5,179.3 679.6,135.2 680.7,125.4 C681.8,125.4 682.5,126.7 683.3,126.7 C684.1,124.5 684.6,112.9 685.3,112.9 C686.0,115.0 686.5,125.4 687.3,138.6 C688.1,151.8 689.0,186.2 690.0,186.2 C691.0,183.8 691.7,136.1 692.6,125.4 C693.5,125.4 694.4,126.7 695.2,126.7 C696.0,124.3 696.5,112.2 697.2,112.2 C697.9,115.1 698.4,128.6 699.2,142.6 C700.0,156.6 700.9,190.2 701.9,190.2 C702.9,186.1 703.6,133.1 704.5,120.1 C705.4,118.1 706.2,119.6 707.1,118.1 C708.0,116.6 708.7,111.5 709.4,111.5 C710.1,114.5 710.3,121.5 711.1,134.7 C711.9,147.9 712.9,184.9 713.8,184.9 C714.7,182.5 715.2,130.4 716.1,121.4 C717.0,121.4 718.0,134.7 719.0,134.7 C720.0,134.2 720.2,118.8 721.4,118.8 C722.6,128.6 724.5,183.7 725.9,188.9 C727.3,188.9 728.2,154.8 729.2,147.9 C730.2,147.9 730.4,150.5 731.2,150.5 C732.0,147.6 732.9,132.0 733.6,132.0 C734.3,132.7 734.4,144.3 735.2,154.5 C736.0,164.7 736.9,188.2 737.8,188.9 C738.7,188.9 739.6,164.5 740.4,158.5 C741.2,155.8 741.6,158.5 742.4,155.8 C743.2,150.7 744.0,130.2 744.7,130.0 C745.4,130.0 745.7,144.0 746.4,154.5 C747.1,165.0 747.6,188.2 748.6,188.2 C749.6,181.3 750.8,129.5 751.7,116.2 C752.6,114.2 752.9,116.2 753.7,114.2 C754.5,112.2 755.5,104.9 756.3,104.9 C757.1,108.1 757.5,117.4 758.3,132.0 C759.1,146.6 759.8,186.2 760.9,186.2 C762.0,184.2 763.3,131.7 764.3,120.8 C765.3,120.8 765.5,125.4 766.2,125.4 C766.9,123.6 767.5,110.9 768.2,110.9 C768.9,113.3 769.4,124.6 770.2,138.6 C771.0,152.6 771.8,188.9 772.8,188.9 C773.8,185.6 774.5,131.8 775.5,120.1 C776.5,120.1 777.3,124.1 778.1,124.1 C778.9,122.2 779.4,109.5 780.1,109.5 C780.8,111.4 781.3,121.6 782.1,134.7 C782.9,147.8 783.7,182.3 784.7,182.3 C785.7,178.7 786.4,127.2 787.4,114.8 C788.4,113.5 789.1,114.8 790.0,113.5 C790.9,111.6 791.6,104.3 792.3,104.3 C793.0,106.9 793.2,114.5 794.0,128.1 C794.8,141.7 795.7,179.6 796.7,179.6 C797.7,177.2 798.8,125.3 799.7,114.8 C800.6,114.8 801.0,121.4 801.9,121.4 C802.8,120.9 803.8,112.2 804.6,112.2 C805.4,117.0 805.8,134.6 806.6,147.9 C807.4,161.2 807.9,186.2 808.9,186.2 C809.9,185.2 811.0,149.5 811.9,142.6 C812.8,142.6 813.1,147.9 813.8,147.9 C814.5,144.8 814.9,125.4 815.6,125.4 C816.3,126.6 816.9,144.2 817.8,154.5 C818.7,164.8 819.4,182.9 820.5,182.9 C821.6,180.8 822.9,149.6 823.8,142.6 C824.7,142.6 825.0,143.9 825.7,143.9 C826.4,140.0 826.9,121.3 827.5,120.8 C828.1,120.8 828.2,130.5 829.0,141.3 C829.8,152.1 830.6,181.0 831.7,181.0 C832.8,175.6 834.2,123.7 835.2,111.4 C836.2,111.4 836.4,112.8 837.2,112.8 C838.0,111.3 838.8,102.9 839.5,102.9 C840.2,105.0 840.4,110.4 841.2,124.7 C842.0,139.0 843.0,182.2 844.1,182.2 C845.2,179.8 846.2,123.4 847.1,111.4 C848.0,111.4 848.3,115.4 849.1,115.4 C849.9,113.9 850.7,102.9 851.4,102.9 C852.1,105.8 852.3,117.4 853.1,131.3 C853.9,145.2 854.6,180.2 855.7,180.2 C856.8,176.6 858.0,124.0 859.0,111.4 C860.0,110.1 860.2,111.4 861.0,110.1 C861.8,108.3 862.6,101.5 863.3,101.5 C864.0,104.6 864.2,113.9 865.0,127.3 C865.8,140.7 866.5,176.2 867.6,176.2 C868.7,172.9 869.9,120.7 870.9,108.8 C871.9,108.8 872.1,110.1 872.9,110.1 C873.7,108.4 874.6,99.5 875.3,99.5 C876.0,102.1 876.1,113.0 876.9,124.7 C877.7,136.4 878.4,164.3 879.5,164.3 C880.6,161.4 881.6,119.3 882.8,108.8 C884.0,106.2 885.4,106.2 886.2,106.2 C887.0,109.1 886.6,111.8 887.5,124.7 C888.4,137.6 890.1,175.2 891.4,177.6 C892.7,177.6 893.7,144.6 894.7,137.9 C895.7,137.9 896.0,140.5 896.7,140.5 C897.4,136.7 897.9,117.2 898.5,116.7 C899.1,116.7 899.1,127.4 900.0,137.9 C900.9,148.4 902.1,174.9 903.3,174.9 C904.5,174.9 905.7,144.6 906.7,137.9 C907.7,137.9 907.9,137.9 908.6,137.9 C909.3,134.2 909.9,117.4 910.6,117.4 C911.3,118.6 911.8,135.6 912.6,144.5 C913.4,153.4 914.1,167.0 915.2,167.0 C916.3,159.6 917.3,115.9 918.6,103.5 C919.9,98.2 921.4,98.2 922.5,98.2 C923.6,102.0 923.8,110.9 924.5,124.7 C925.2,138.5 925.5,174.9 926.5,174.9 C927.5,172.0 928.4,122.6 929.8,108.8 C931.2,98.2 933.3,98.2 934.4,98.2 C935.5,101.1 935.0,111.4 935.7,124.7 C936.4,138.0 937.4,172.3 938.4,172.3 C939.4,169.0 940.6,117.9 941.5,106.2 C942.4,106.2 942.7,107.5 943.5,107.5 C944.3,105.8 945.4,96.9 946.1,96.9 C946.8,98.8 946.6,104.8 947.4,118.1 C948.2,131.4 949.6,171.0 950.7,171.0 C951.8,169.3 952.4,120.7 953.4,108.8 C954.4,104.8 955.1,106.9 956.0,104.8 C956.9,102.7 957.7,96.9 958.4,96.9 C959.1,100.0 959.3,108.0 960.0,122.0 C960.7,136.0 961.3,174.9 962.3,174.9 C963.3,172.3 964.4,119.9 965.3,107.5 C966.2,106.2 966.5,106.2 967.3,106.2 C968.1,106.7 969.2,106.8 969.9,110.1 C970.6,113.4 970.8,115.2 971.2,124.7 C971.6,134.2 972.1,156.1 972.3,163.0" fill="none" stroke="#004586" stroke-width="3.4" stroke-linejoin="round" stroke-linecap="round"/>
<path d="M605.9,217.5 C606.6,217.8 608.7,217.5 609.7,219.4 C610.7,221.8 610.8,226.8 611.6,230.7 C612.4,234.6 613.6,241.1 614.4,241.1 C615.2,239.1 615.6,228.1 616.3,219.4 C617.0,210.7 617.5,200.2 618.2,192.9 C618.9,185.6 619.3,179.8 620.1,178.8 C620.9,178.8 622.1,181.4 622.9,187.3 C623.7,193.2 624.1,203.3 624.8,211.8 C625.5,220.3 626.0,229.2 626.7,234.5 C627.4,239.8 627.8,240.4 628.6,241.1 C629.4,241.1 630.4,241.1 631.4,238.3 C632.4,232.0 633.2,217.3 634.2,206.2 C635.2,195.1 636.1,178.3 637.1,176.9 C638.1,176.9 639.1,197.4 639.9,198.6 C640.7,198.6 641.0,187.9 641.8,183.5 C642.6,179.1 643.8,174.0 644.6,174.0 C645.4,175.7 645.8,184.0 646.5,192.9 C647.2,201.8 647.9,216.4 648.4,223.2 C648.9,230.0 648.9,230.7 649.4,230.7 C649.9,229.3 650.5,216.9 651.3,215.6 C652.1,215.6 653.1,218.4 654.1,223.2 C655.1,228.0 656.1,235.8 656.9,242.1 C657.7,248.4 657.9,257.4 658.8,258.1 C659.7,258.1 660.7,251.2 661.7,245.9 C662.7,240.6 663.7,235.9 664.5,228.8 C665.3,221.7 665.6,215.4 666.4,206.2 C667.2,197.0 668.5,184.6 669.2,177.8 C669.9,171.0 669.8,168.4 670.5,168.4 C671.2,169.1 672.0,177.9 673.0,181.6 C674.0,185.3 675.0,186.4 675.8,189.1 C676.6,191.8 677.0,196.7 677.7,196.7 C678.4,194.7 678.8,182.6 679.6,177.8 C680.4,173.0 681.0,170.9 682.4,170.2 C683.8,170.2 685.8,171.6 687.2,174.0 C688.6,176.4 689.0,180.4 690.0,183.5 C691.0,186.6 692.0,188.6 692.8,191.0 C693.6,193.4 694.0,196.7 694.7,196.7 C695.4,196.0 695.9,189.3 696.6,187.3 C697.3,185.4 697.8,185.4 698.5,185.4 C699.2,188.8 699.7,197.4 700.4,206.2 C701.1,215.0 701.7,226.0 702.3,234.5 C702.9,243.0 703.0,253.4 703.6,253.4 C704.2,251.7 704.9,237.0 705.5,225.1 C706.1,213.2 706.4,194.4 707.0,187.3 C707.6,185.4 708.2,187.3 708.9,185.4 C709.6,181.3 710.0,164.9 710.8,164.6 C711.6,164.6 712.3,178.7 713.3,183.5 C714.3,188.3 715.4,189.8 716.5,191.0 C717.6,191.0 718.5,190.1 719.3,190.1 C720.1,191.5 720.3,196.4 721.2,198.6 C722.1,200.8 723.1,200.9 724.4,202.4 C725.7,203.9 727.1,204.4 728.2,207.1 C729.3,209.8 729.8,217.5 730.6,217.5 C731.4,215.6 732.0,205.2 732.9,196.7 C733.8,188.2 734.5,175.6 735.7,170.2 C736.9,166.5 738.3,166.5 739.5,166.5 C740.7,171.3 741.6,184.5 742.4,196.7 C743.2,208.9 743.5,222.9 744.2,234.5 C744.9,246.1 745.5,254.5 746.1,261.0 C746.7,267.5 746.9,270.4 747.6,270.4 C748.3,266.3 749.1,253.3 749.9,238.3 C750.7,223.3 751.2,197.8 751.8,187.3 C752.4,179.7 752.4,179.7 753.1,179.7 C753.8,184.1 754.6,200.6 755.6,211.8 C756.6,223.0 757.6,231.9 758.4,242.1 C759.2,252.3 759.5,261.9 760.3,268.5 C761.1,275.1 761.9,276.7 763.1,278.9 C764.3,280.8 765.7,280.8 766.9,280.8 C768.1,278.6 768.8,271.6 769.8,266.7 C770.8,261.8 771.6,258.5 772.6,253.4 C773.6,248.3 774.2,242.7 775.4,238.3 C776.6,233.9 778.2,233.6 779.2,228.8 C780.2,224.0 780.3,218.9 781.1,211.8 C781.9,204.7 782.9,194.2 783.9,189.1 C784.9,184.0 785.8,186.2 786.8,183.5 C787.8,180.8 788.2,178.6 789.6,174.0 C791.0,169.4 793.1,158.0 794.3,158.0 C795.5,158.7 795.3,167.9 796.2,177.8 C797.1,187.7 797.9,207.2 799.1,212.8 C800.3,212.8 801.4,210.4 802.8,209.0 C804.1,207.6 805.2,207.8 806.6,205.2 C808.0,202.6 809.0,198.5 810.4,194.8 C811.8,191.1 813.0,189.5 814.2,184.4 C815.4,179.3 815.5,173.0 817.0,166.5 C818.5,160.0 820.8,151.6 822.7,148.5 C824.6,148.5 826.0,148.7 827.4,149.5 C828.8,150.3 829.2,150.8 830.3,153.2 C831.4,155.6 832.3,157.9 833.5,162.7 C834.7,167.5 835.7,173.9 837.2,179.7 C838.7,185.5 840.6,188.3 842.0,194.8 C843.4,201.3 843.8,209.3 844.8,215.6 C845.8,221.9 846.6,228.4 847.6,229.8 C848.6,229.8 849.6,225.8 850.5,223.2 C851.4,220.6 851.6,218.0 852.4,215.6 C853.2,213.2 854.4,213.3 855.2,209.9 C856.0,206.5 856.4,201.5 857.1,196.7 C857.8,191.9 858.2,184.7 859.0,183.5 C859.8,183.5 860.6,190.1 861.8,190.1 C863.0,189.6 864.4,180.8 865.6,180.6 C866.8,180.6 867.2,189.1 868.4,189.1 C869.6,188.3 870.7,180.3 872.2,175.9 C873.7,171.5 875.5,165.9 876.9,164.6 C878.3,164.6 878.9,164.7 879.8,168.4 C880.7,172.1 881.0,184.6 881.7,185.4 C882.4,185.4 882.7,173.1 883.5,173.1 C884.3,175.5 885.4,197.1 886.4,198.6 C887.4,198.6 888.4,181.6 889.2,181.6 C890.0,181.9 890.3,200.5 891.1,200.5 C891.9,200.2 892.9,184.5 893.9,179.7 C894.9,174.9 895.7,178.1 896.8,174.0 C897.9,169.9 899.0,158.0 900.2,157.0 C901.4,157.0 902.3,163.5 903.4,168.4 C904.5,173.3 905.2,182.0 906.2,184.4 C907.2,184.4 908.1,184.2 909.1,181.6 C910.1,179.0 910.9,173.9 911.9,170.2 C912.9,166.5 913.4,161.5 914.4,160.8 C915.4,160.8 916.5,161.7 917.6,166.5 C918.7,171.3 919.6,180.2 920.4,187.3 C921.2,194.4 921.6,200.3 922.3,206.2 C923.0,212.1 923.4,220.3 924.2,220.3 C925.0,219.6 926.0,207.3 927.0,202.4 C928.0,197.5 928.7,196.8 929.9,192.9 C931.1,189.0 932.6,181.3 933.6,180.6 C934.6,180.6 934.8,185.0 935.5,189.1 C936.2,193.2 936.2,203.3 937.3,203.3 C938.4,203.0 940.0,191.5 941.4,187.3 C942.8,183.1 944.0,179.7 945.2,179.7 C946.4,181.0 947.2,189.4 948.1,194.8 C949.0,200.2 949.5,208.5 950.3,209.9 C951.1,209.9 951.8,204.1 952.8,202.4 C953.8,200.7 954.6,200.5 955.6,200.5 C956.6,202.5 957.4,207.9 958.4,213.7 C959.4,219.5 960.4,232.3 961.3,232.6 C962.2,232.6 962.6,221.4 963.2,215.6 C963.8,209.8 964.0,200.5 964.7,200.5 C965.4,202.2 966.3,216.9 967.0,225.1 C967.7,233.3 968.2,241.7 968.8,245.9 C969.4,248.7 969.8,248.7 970.4,248.7 C971.0,248.7 971.9,246.4 972.2,245.9" fill="none" stroke="#ff420e" stroke-width="3.3" stroke-linejoin="round" stroke-linecap="round"/>
<rect x="91" y="690" width="360.5" height="6.2" fill="#b3b3b3"/>
<g stroke="#fff" stroke-width="0.8"><line x1="363.5" y1="691" x2="363.5" y2="696.5"/><line x1="365.3" y1="691" x2="365.3" y2="696.5"/><line x1="367.2" y1="691" x2="367.2" y2="696.5"/><line x1="369.3" y1="691" x2="369.3" y2="696.5"/></g>
<path d="M90.6,579.6 C91.0,581.1 91.9,588.1 92.6,588.1 C93.3,585.8 93.9,573.9 94.6,567.0 C95.3,560.1 95.9,550.3 96.6,549.8 C97.3,549.8 97.8,563.0 98.6,564.3 C99.4,564.3 100.2,557.1 101.2,557.1 C102.2,559.5 103.1,577.6 103.9,577.6 C104.7,571.8 105.2,538.3 105.9,524.7 C106.6,511.1 107.3,506.5 107.8,502.2 C108.3,500.9 108.2,500.9 108.9,500.9 C109.6,503.8 110.9,511.4 111.8,518.1 C112.7,524.8 113.1,529.7 113.8,537.9 C114.5,546.1 115.0,563.7 115.8,563.7 C116.6,558.9 117.6,523.1 118.4,511.4 C119.2,499.7 119.6,498.9 120.4,498.9 C121.2,499.4 122.0,508.3 123.0,514.1 C124.0,519.9 124.9,522.0 125.7,531.3 C126.5,540.6 126.6,565.7 127.4,565.7 C128.2,562.1 129.4,523.7 130.3,511.4 C131.2,499.1 131.5,497.6 132.3,497.6 C133.1,497.9 133.9,507.9 134.9,512.8 C135.9,517.7 136.7,515.7 137.6,524.7 C138.5,533.7 139.0,563.0 139.8,563.0 C140.6,560.1 141.3,520.6 142.2,508.8 C143.1,497.6 143.6,497.6 144.6,497.6 C145.6,498.6 146.4,506.8 147.5,514.1 C148.6,521.4 149.9,528.6 150.8,537.9 C151.7,547.2 151.8,565.7 152.4,565.7 C153.0,562.1 153.4,529.9 154.1,518.1 C154.8,506.3 155.5,500.7 156.5,500.2 C157.5,500.2 158.3,508.1 159.4,515.4 C160.5,522.7 161.7,529.4 162.7,540.5 C163.7,551.6 164.2,576.9 165.0,576.9 C165.8,576.9 166.6,548.5 167.3,540.5 C168.0,532.6 168.0,532.6 168.7,532.6 C169.4,534.3 170.3,545.0 171.3,549.8 C172.3,554.6 173.2,554.1 174.0,559.1 C174.8,564.1 175.3,572.4 175.9,577.6 C176.5,582.8 176.7,588.1 177.3,588.1 C177.9,585.2 178.6,567.6 179.2,561.7 C179.8,555.8 180.0,555.1 180.6,555.1 C181.2,555.8 181.8,563.8 182.6,565.7 C183.4,565.7 184.4,565.7 185.2,565.7 C186.0,567.8 186.5,573.6 187.2,577.6 C187.9,581.6 188.5,588.1 189.2,588.1 C189.9,585.7 190.5,571.0 191.1,564.3 C191.7,557.6 191.8,551.6 192.5,551.1 C193.2,551.1 194.3,560.7 195.1,561.7 C195.9,561.7 196.5,556.4 197.1,556.4 C197.7,556.9 197.9,560.2 198.4,564.3 C198.9,568.3 199.4,578.9 200.1,578.9 C200.8,571.8 201.6,539.7 202.4,524.7 C203.2,509.7 203.4,496.8 204.4,495.6 C205.4,495.6 206.8,510.0 207.9,518.1 C209.0,526.2 209.8,532.8 210.6,540.5 C211.4,548.2 211.6,561.0 212.3,561.0 C213.0,555.8 213.7,523.4 214.5,511.4 C215.3,499.4 215.5,494.3 216.5,494.3 C217.5,495.0 218.7,507.1 219.8,515.4 C220.9,523.7 221.7,531.7 222.5,540.5 C223.3,549.3 223.7,564.3 224.4,564.3 C225.1,560.3 225.6,529.8 226.4,518.1 C227.2,506.4 227.6,499.5 228.7,499.5 C229.8,499.5 231.4,511.2 232.4,518.1 C233.4,525.0 233.7,529.5 234.4,537.9 C235.1,546.3 235.6,565.0 236.3,565.0 C237.0,561.4 237.5,529.9 238.3,518.1 C239.1,506.3 239.5,499.5 240.6,499.5 C241.7,500.2 243.2,513.9 244.3,522.0 C245.4,530.1 246.0,535.0 246.9,544.5 C247.8,554.0 248.6,574.9 249.3,574.9 C250.0,574.7 250.3,550.8 250.9,543.2 C251.5,535.6 251.8,532.6 252.5,532.6 C253.2,533.6 254.1,545.4 254.9,548.5 C255.7,549.8 256.0,548.5 256.8,549.8 C257.6,553.8 258.7,564.1 259.5,571.0 C260.3,577.9 260.8,588.1 261.5,588.1 C262.2,586.9 262.8,570.7 263.5,564.3 C264.2,557.9 264.6,552.4 265.2,552.4 C265.8,552.7 265.9,564.6 266.8,565.7 C267.7,565.7 269.0,558.4 270.1,558.4 C271.2,560.8 271.9,578.9 272.7,578.9 C273.5,572.8 273.7,538.5 274.4,524.7 C275.1,510.9 275.7,502.2 276.7,502.2 C277.7,502.2 278.9,517.1 280.0,524.7 C281.1,532.3 281.8,536.8 282.6,544.5 C283.4,552.2 283.9,567.7 284.6,567.7 C285.3,562.9 285.9,530.0 286.6,518.1 C287.3,506.2 287.6,501.5 288.6,501.5 C289.6,501.5 290.8,511.5 291.9,518.1 C293.0,524.7 293.7,529.0 294.5,537.9 C295.3,546.8 295.8,567.7 296.5,567.7 C297.2,564.1 297.8,529.9 298.5,518.1 C299.2,506.3 299.5,502.2 300.5,502.2 C301.5,502.7 302.6,511.9 303.8,520.7 C305.0,529.5 306.2,541.3 307.1,551.1 C308.0,560.9 308.0,574.9 308.8,574.9 C309.6,572.5 310.9,545.6 311.7,537.9 C312.5,531.9 312.2,531.9 313.0,531.9 C313.8,532.4 314.9,535.6 315.9,540.5 C316.9,545.4 317.8,552.5 318.6,559.1 C319.4,565.7 319.9,576.9 320.6,576.9 C321.3,572.6 321.8,547.0 322.5,535.3 C323.2,523.6 323.5,513.3 324.5,512.1 C325.5,512.1 326.7,522.0 327.8,528.6 C328.9,535.2 329.5,539.4 330.5,548.5 C331.5,557.6 332.3,578.9 333.1,578.9 C333.9,578.2 334.5,552.6 335.1,544.5 C335.7,536.4 335.6,533.9 336.4,533.9 C337.2,534.6 338.6,542.8 339.7,548.5 C340.8,554.2 341.3,558.6 342.4,565.7 C343.5,572.8 344.7,588.1 345.7,588.1 C346.7,586.9 347.1,565.5 347.7,559.1 C348.3,552.7 348.4,552.4 349.0,552.4 C349.6,552.9 350.0,560.7 351.0,561.7 C352.0,561.7 353.3,557.7 354.3,557.7 C355.3,560.4 356.0,576.9 356.7,576.9 C357.4,571.0 357.6,538.5 358.3,524.7 C359.0,510.9 359.5,502.1 360.6,500.2 C361.7,500.2 363.2,508.5 364.2,514.1 C365.2,519.7 365.4,521.3 366.2,531.3 C367.0,541.3 367.8,569.6 368.6,569.6 C369.4,566.0 370.0,524.3 370.8,511.4 C371.6,498.5 372.1,498.2 373.2,498.2 C374.3,498.9 375.8,509.4 376.8,515.4 C377.8,521.4 378.0,522.5 378.7,531.3 C379.4,540.1 380.0,564.3 380.7,564.3 C381.4,560.7 381.9,523.5 382.7,511.4 C383.5,499.3 384.3,496.9 385.4,496.9 C386.5,497.9 387.7,510.5 388.7,516.7 C389.7,522.9 390.0,522.4 390.7,531.3 C391.4,540.2 391.8,566.3 392.6,566.3 C393.4,562.7 394.4,523.3 395.3,511.4 C396.2,500.2 396.5,500.2 397.5,500.2 C398.5,501.2 399.7,509.9 400.6,516.7 C401.5,523.5 401.9,528.7 402.6,537.9 C403.3,547.1 403.7,567.7 404.5,567.7 C405.3,562.9 406.3,523.5 407.2,511.4 C408.1,500.2 408.4,500.2 409.4,500.2 C410.4,501.9 411.5,513.4 412.5,520.7 C413.5,528.0 414.2,531.0 415.1,540.5 C416.0,550.0 416.7,573.6 417.5,573.6 C418.3,573.1 419.0,545.9 419.7,537.9 C420.4,529.9 420.7,529.3 421.5,529.3 C422.3,530.7 423.3,541.4 424.1,545.8 C424.9,550.2 425.4,549.3 426.1,553.8 C426.8,558.3 427.5,565.1 428.1,571.0 C428.7,576.9 428.8,586.8 429.4,586.8 C430.0,585.6 430.7,571.2 431.4,564.3 C432.1,557.4 432.7,549.4 433.4,548.5 C434.1,548.5 434.7,557.9 435.4,559.1 C436.1,559.1 436.6,555.1 437.3,555.1 C438.0,556.0 438.6,560.4 439.3,564.3 C440.0,568.2 440.3,576.9 441.0,576.9 C441.7,568.6 442.5,531.8 443.3,518.1 C444.1,504.4 444.3,500.9 445.3,500.9 C446.3,500.9 447.6,512.6 448.6,518.1 C449.6,523.6 450.1,525.7 450.6,531.3 C451.1,536.9 451.4,545.9 451.6,549.1" fill="none" stroke="#004586" stroke-width="3.6" stroke-linejoin="round" stroke-linecap="round"/>
<polyline points="92.0,689.6 92.2,689.6 92.5,689.6 92.8,689.6 93.0,687.6 93.2,682.8 93.5,678.0 93.8,673.4 94.0,668.9 94.2,664.7 94.5,660.7 94.8,657.1 95.0,653.8 95.2,651.0 95.5,648.5 95.8,646.6 96.0,645.1 96.2,644.1 96.5,643.6 96.8,643.7 97.0,644.3 97.2,645.3 97.5,646.9 97.8,649.0 98.0,651.5 98.2,654.4 98.5,657.8 98.8,661.5 99.0,665.5 99.2,669.8 99.5,674.3 99.8,679.0 100.0,683.8 100.2,688.6 100.5,689.6 100.8,689.6 101.0,689.6 101.2,689.6 101.5,689.6 101.8,689.6 102.0,689.6 102.2,689.6 102.5,689.6 102.8,689.6 103.0,689.6 103.2,689.6 103.5,689.6 103.8,689.6 104.0,689.6 104.2,689.6 104.5,689.6 104.8,689.6 105.0,689.6 105.2,684.3 105.5,679.2 105.8,674.1 106.0,669.2 106.2,664.5 106.5,660.1 106.8,656.0 107.0,652.4 107.2,649.1 107.5,646.3 107.8,644.0 108.0,642.2 108.2,640.9 108.5,640.2 108.8,640.0 109.0,640.4 109.2,641.3 109.5,642.8 109.8,644.8 110.0,647.4 110.2,650.4 110.5,653.8 110.8,657.6 111.0,661.8 111.2,666.3 111.5,671.1 111.8,676.1 112.0,681.2 112.2,686.4 112.5,689.6 112.8,689.6 113.0,689.6 113.2,689.6 113.5,689.6 113.8,689.6 114.0,689.6 114.2,689.6 114.5,689.6 114.8,689.6 115.0,689.6 115.2,689.6 115.5,689.6 115.8,689.6 116.0,689.6 116.2,689.6 116.5,689.6 116.8,686.5 117.0,681.4 117.2,676.3 117.5,671.4 117.8,666.8 118.0,662.3 118.2,658.2 118.5,654.4 118.8,651.1 119.0,648.1 119.2,645.7 119.5,643.7 119.8,642.2 120.0,641.3 120.2,640.9 120.5,641.1 120.8,641.8 121.0,643.0 121.2,644.8 121.5,647.1 121.8,649.8 122.0,653.0 122.2,656.7 122.5,660.6 122.8,665.0 123.0,669.5 123.2,674.4 123.5,679.3 123.8,684.4 124.0,689.6 124.2,689.6 124.5,689.6 124.8,689.6 125.0,689.6 125.2,689.6 125.5,689.6 125.8,689.6 126.0,689.6 126.2,689.6 126.5,689.6 126.8,689.6 127.0,689.6 127.2,689.6 127.5,689.6 127.8,689.6 128.0,689.6 128.2,689.6 128.5,689.6 128.8,688.5 129.0,683.3 129.2,678.1 129.5,673.1 129.8,668.2 130.0,663.6 130.2,659.3 130.5,655.3 130.8,651.7 131.0,648.5 131.2,645.8 131.5,643.6 131.8,641.9 132.0,640.7 132.2,640.1 132.5,640.0 132.8,640.5 133.0,641.6 133.2,643.2 133.5,645.3 133.8,647.9 134.0,651.0 134.2,654.5 134.5,658.4 134.8,662.7 135.0,667.3 135.2,672.1 135.5,677.1 135.8,682.3 136.0,687.5 136.2,689.6 136.5,689.6 136.8,689.6 137.0,689.6 137.2,689.6 137.5,689.6 137.8,689.6 138.0,689.6 138.2,689.6 138.5,689.6 138.8,689.6 139.0,689.6 139.2,689.6 139.5,689.6 139.8,689.6 140.0,689.6 140.2,689.6 140.5,689.6 140.8,689.6 141.0,689.6 141.2,689.6 141.5,689.6 141.8,689.6 142.0,689.6 142.2,686.9 142.5,682.4 142.8,678.0 143.0,673.8 143.2,669.7 143.5,665.9 143.8,662.3 144.0,659.0 144.2,656.1 144.5,653.5 144.8,651.3 145.0,649.6 145.2,648.4 145.5,647.5 145.8,647.2 146.0,647.4 146.2,648.0 146.5,649.1 146.8,650.6 147.0,652.6 147.2,655.0 147.5,657.8 147.8,660.9 148.0,664.4 148.2,668.1 148.5,672.1 148.8,676.3 149.0,680.7 149.2,685.1 149.5,689.6 149.8,689.6 150.0,689.6 150.2,689.6 150.5,689.6 150.8,689.6 151.0,689.6 151.2,689.6 151.5,689.6 151.8,689.6 152.0,689.6 152.2,689.6 152.5,689.6 152.8,689.6 153.0,689.6 153.2,689.6 153.5,689.6 153.8,689.6 154.0,684.3 154.2,677.8 154.5,671.4 154.8,665.2 155.0,659.3 155.2,653.7 155.5,648.6 155.8,643.9 156.0,639.7 156.2,636.0 156.5,633.0 156.8,630.6 157.0,628.9 157.2,627.8 157.5,627.5 157.8,627.8 158.0,628.9 158.2,630.6 158.5,633.0 158.8,636.0 159.0,639.7 159.2,643.9 159.5,648.6 159.8,653.7 160.0,659.3 160.2,665.2 160.5,671.4 160.8,677.8 161.0,684.3 161.2,689.6 161.5,689.6 161.8,689.6 162.0,689.6 162.2,689.6 162.5,689.6 162.8,689.6 163.0,689.6 163.2,689.6 163.5,689.6 163.8,689.6 164.0,689.6 164.2,689.6 164.5,689.6 164.8,689.6 165.0,689.6 165.2,689.6 165.5,689.6 165.8,688.3 166.0,681.9 166.2,675.6 166.5,669.4 166.8,663.4 167.0,657.8 167.2,652.5 167.5,647.6 167.8,643.2 168.0,639.3 168.2,636.0 168.5,633.3 168.8,631.2 169.0,629.8 169.2,629.0 169.5,629.0 169.8,629.6 170.0,630.9 170.2,632.8 170.5,635.4 170.8,638.6 171.0,642.4 171.2,646.7 171.5,651.5 171.8,656.7 172.0,662.3 172.2,668.2 172.5,674.3 172.8,680.6 173.0,687.0 173.2,689.6 173.5,689.6 173.8,689.6 174.0,689.6 174.2,689.6 174.5,689.6 174.8,689.6 175.0,689.6 175.2,689.6 175.5,689.6 175.8,689.6 176.0,689.6 176.2,689.6 176.5,689.6 176.8,689.6 177.0,689.6 177.2,689.6 177.5,684.9 177.8,679.0 178.0,673.3 178.2,667.7 178.5,662.4 178.8,657.4 179.0,652.7 179.2,648.5 179.5,644.7 179.8,641.5 180.0,638.8 180.2,636.6 180.5,635.1 180.8,634.1 181.0,633.8 181.2,634.1 181.5,635.1 181.8,636.6 182.0,638.8 182.2,641.5 182.5,644.7 182.8,648.5 183.0,652.7 183.2,657.4 183.5,662.4 183.8,667.7 184.0,673.3 184.2,679.0 184.5,684.9 184.8,689.6 185.0,689.6 185.2,689.6 185.5,689.6 185.8,689.6 186.0,689.6 186.2,689.6 186.5,689.6 186.8,689.6 187.0,689.6 187.2,689.6 187.5,689.6 187.8,689.6 188.0,689.6 188.2,689.6 188.5,689.6 188.8,689.6 189.0,689.6 189.2,689.6 189.5,689.6 189.8,688.4 190.0,682.2 190.2,676.1 190.5,670.1 190.8,664.4 191.0,658.9 191.2,653.8 191.5,649.1 191.8,644.9 192.0,641.1 192.2,637.9 192.5,635.3 192.8,633.3 193.0,631.9 193.2,631.2 193.5,631.2 193.8,631.7 194.0,633.0 194.2,634.9 194.5,637.4 194.8,640.4 195.0,644.1 195.2,648.2 195.5,652.8 195.8,657.9 196.0,663.3 196.2,668.9 196.5,674.9 196.8,680.9 197.0,687.1 197.2,689.6 197.5,689.6 197.8,689.6 198.0,689.6 198.2,689.6 198.5,689.6 198.8,689.6 199.0,689.6 199.2,689.6 199.5,689.6 199.8,689.6 200.0,689.6 200.2,689.6 200.5,689.6 200.8,689.6 201.0,689.6 201.2,689.6 201.5,689.6 201.8,689.6 202.0,687.3 202.2,681.4 202.5,675.7 202.8,670.1 203.0,664.7 203.2,659.6 203.5,654.9 203.8,650.5 204.0,646.6 204.2,643.1 204.5,640.2 204.8,637.9 205.0,636.1 205.2,634.9 205.5,634.3 205.8,634.4 206.0,635.1 206.2,636.4 206.5,638.3 206.8,640.8 207.0,643.8 207.2,647.3 207.5,651.3 207.8,655.8 208.0,660.6 208.2,665.8 208.5,671.2 208.8,676.8 209.0,682.6 209.2,688.4 209.5,689.6 209.8,689.6 210.0,689.6 210.2,689.6 210.5,689.6 210.8,689.6 211.0,689.6 211.2,689.6 211.5,689.6 211.8,689.6 212.0,689.6 212.2,689.6 212.5,689.6 212.8,689.6 213.0,689.6 213.2,689.6 213.5,689.6 213.8,689.6 214.0,689.6 214.2,684.8 214.5,680.1 214.8,675.5 215.0,671.0 215.2,666.8 215.5,662.8 215.8,659.1 216.0,655.7 216.2,652.8 216.5,650.2 216.8,648.1 217.0,646.5 217.2,645.3 217.5,644.7 217.8,644.5 218.0,644.9 218.2,645.7 218.5,647.1 218.8,648.9 219.0,651.2 219.2,653.9 219.5,657.0 219.8,660.5 220.0,664.3 220.2,668.4 220.5,672.8 220.8,677.3 221.0,682.0 221.2,686.7 221.5,689.6 221.8,689.6 222.0,689.6 222.2,689.6 222.5,689.6 222.8,689.6 223.0,689.6 223.2,689.6 223.5,689.6 223.8,689.6 224.0,689.6 224.2,689.6 224.5,689.6 224.8,689.6 225.0,689.6 225.2,689.6 225.5,689.6 225.8,689.6 226.0,685.1 226.2,679.5 226.5,674.1 226.8,668.8 227.0,663.7 227.2,658.9 227.5,654.5 227.8,650.5 228.0,646.9 228.2,643.8 228.5,641.2 228.8,639.2 229.0,637.7 229.2,636.8 229.5,636.5 229.8,636.8 230.0,637.7 230.2,639.2 230.5,641.2 230.8,643.8 231.0,646.9 231.2,650.5 231.5,654.5 231.8,658.9 232.0,663.7 232.2,668.8 232.5,674.1 232.8,679.5 233.0,685.1 233.2,689.6 233.5,689.6 233.8,689.6 234.0,689.6 234.2,689.6 234.5,689.6 234.8,689.6 235.0,689.6 235.2,689.6 235.5,689.6 235.8,689.6 236.0,689.6 236.2,689.6 236.5,689.6 236.8,689.6 237.0,689.6 237.2,689.6 237.5,689.6 237.8,684.5 238.0,679.5 238.2,674.6 238.5,669.9 238.8,665.4 239.0,661.2 239.2,657.3 239.5,653.7 239.8,650.6 240.0,647.9 240.2,645.6 240.5,643.9 240.8,642.7 241.0,642.0 241.2,641.8 241.5,642.2 241.8,643.1 242.0,644.5 242.2,646.5 242.5,648.9 242.8,651.8 243.0,655.1 243.2,658.8 243.5,662.8 243.8,667.2 244.0,671.8 244.2,676.6 244.5,681.5 244.8,686.6 245.0,689.6 245.2,689.6 245.5,689.6 245.8,689.6 246.0,689.6 246.2,689.6 246.5,689.6 246.8,689.6 247.0,689.6 247.2,689.6 247.5,689.6 247.8,689.6 248.0,689.6 248.2,689.6 248.5,689.6 248.8,689.6 249.0,689.6 249.2,689.6 249.5,689.6 249.8,689.6 250.0,688.0 250.2,683.9 250.5,679.9 250.8,676.0 251.0,672.3 251.2,668.8 251.5,665.5 251.8,662.4 252.0,659.7 252.2,657.3 252.5,655.3 252.8,653.7 253.0,652.4 253.2,651.6 253.5,651.2 253.8,651.3 254.0,651.8 254.2,652.7 254.5,654.0 254.8,655.7 255.0,657.8 255.2,660.2 255.5,663.0 255.8,666.1 256.0,669.5 256.2,673.0 256.5,676.8 256.8,680.7 257.0,684.7 257.2,688.8 257.5,689.6 257.8,689.6 258.0,689.6 258.2,689.6 258.5,689.6 258.8,689.6 259.0,689.6 259.2,689.6 259.5,689.6 259.8,689.6 260.0,689.6 260.2,689.6 260.5,689.6 260.8,689.6 261.0,689.6 261.2,689.6 261.5,689.6 261.8,688.5 262.0,683.3 262.2,678.1 262.5,673.1 262.8,668.2 263.0,663.6 263.2,659.3 263.5,655.3 263.8,651.7 264.0,648.5 264.2,645.8 264.5,643.6 264.8,641.9 265.0,640.7 265.2,640.1 265.5,640.0 265.8,640.5 266.0,641.6 266.2,643.2 266.5,645.3 266.8,647.9 267.0,651.0 267.2,654.5 267.5,658.4 267.8,662.7 268.0,667.3 268.2,672.1 268.5,677.1 268.8,682.3 269.0,687.5 269.2,689.6 269.5,689.6 269.8,689.6 270.0,689.6 270.2,689.6 270.5,689.6 270.8,689.6 271.0,689.6 271.2,689.6 271.5,689.6 271.8,689.6 272.0,689.6 272.2,689.6 272.5,689.6 272.8,689.6 273.0,689.6 273.2,689.6 273.5,686.1 273.8,681.9 274.0,677.7 274.2,673.6 274.5,669.7 274.8,666.0 275.0,662.6 275.2,659.6 275.5,656.8 275.8,654.4 276.0,652.4 276.2,650.9 276.5,649.7 276.8,649.0 277.0,648.8 277.2,649.0 277.5,649.7 277.8,650.9 278.0,652.4 278.2,654.4 278.5,656.8 278.8,659.6 279.0,662.6 279.2,666.0 279.5,669.7 279.8,673.6 280.0,677.7 280.2,681.9 280.5,686.1 280.8,689.6 281.0,689.6 281.2,689.6 281.5,689.6 281.8,689.6 282.0,689.6 282.2,689.6 282.5,689.6 282.8,689.6 283.0,689.6 283.2,689.6 283.5,689.6 283.8,689.6 284.0,689.6 284.2,689.6 284.5,689.6 284.8,689.6 285.0,689.6 285.2,689.6 285.5,689.6 285.8,685.4 286.0,681.2 286.2,677.2 286.5,673.2 286.8,669.5 287.0,666.0 287.2,662.7 287.5,659.8 287.8,657.2 288.0,654.9 288.2,653.1 288.5,651.6 288.8,650.6 289.0,650.0 289.2,649.9 289.5,650.2 289.8,651.0 290.0,652.2 290.2,653.8 290.5,655.8 290.8,658.2 291.0,660.9 291.2,664.0 291.5,667.4 291.8,671.0 292.0,674.8 292.2,678.8 292.5,682.9 292.8,687.1 293.0,689.6 293.2,689.6 293.5,689.6 293.8,689.6 294.0,689.6 294.2,689.6 294.5,689.6 294.8,689.6 295.0,689.6 295.2,689.6 295.5,689.6 295.8,689.6 296.0,689.6 296.2,689.6 296.5,689.6 296.8,689.6 297.0,689.6 297.2,689.6 297.5,689.6 297.8,684.2 298.0,678.9 298.2,673.6 298.5,668.6 298.8,663.8 299.0,659.3 299.2,655.1 299.5,651.3 299.8,648.0 300.0,645.1 300.2,642.7 300.5,640.8 300.8,639.5 301.0,638.8 301.2,638.6 301.5,639.0 301.8,640.0 302.0,641.5 302.2,643.6 302.5,646.2 302.8,649.2 303.0,652.8 303.2,656.7 303.5,661.0 303.8,665.7 304.0,670.6 304.2,675.7 304.5,681.0 304.8,686.4 305.0,689.6 305.2,689.6 305.5,689.6 305.8,689.6 306.0,689.6 306.2,689.6 306.5,689.6 306.8,689.6 307.0,689.6 307.2,689.6 307.5,689.6 307.8,689.6 308.0,689.6 308.2,689.6 308.5,689.6 308.8,689.6 309.0,689.6 309.2,689.6 309.5,689.6 309.8,688.8 310.0,684.7 310.2,680.6 310.5,676.7 310.8,672.9 311.0,669.3 311.2,665.9 311.5,662.8 311.8,659.9 312.0,657.5 312.2,655.3 312.5,653.6 312.8,652.3 313.0,651.4 313.2,650.9 313.5,650.8 313.8,651.2 314.0,652.1 314.2,653.3 314.5,655.0 314.8,657.0 315.0,659.4 315.2,662.2 315.5,665.2 315.8,668.6 316.0,672.1 316.2,675.9 316.5,679.8 316.8,683.9 317.0,688.0 317.2,689.6 317.5,689.6 317.8,689.6 318.0,689.6 318.2,689.6 318.5,689.6 318.8,689.6 319.0,689.6 319.2,689.6 319.5,689.6 319.8,689.6 320.0,689.6 320.2,689.6 320.5,689.6 320.8,689.6 321.0,689.6 321.2,689.6 321.5,689.6 321.8,689.6 322.0,689.6 322.2,689.6 322.5,686.9 322.8,683.6 323.0,680.3 323.2,677.2 323.5,674.2 323.8,671.4 324.0,668.7 324.2,666.3 324.5,664.2 324.8,662.3 325.0,660.8 325.2,659.6 325.5,658.7 325.8,658.2 326.0,658.0 326.2,658.2 326.5,658.7 326.8,659.6 327.0,660.8 327.2,662.3 327.5,664.2 327.8,666.3 328.0,668.7 328.2,671.4 328.5,674.2 328.8,677.2 329.0,680.3 329.2,683.6 329.5,686.9 329.8,689.6 330.0,689.6 330.2,689.6 330.5,689.6 330.8,689.6 331.0,689.6 331.2,689.6 331.5,689.6 331.8,689.6 332.0,689.6 332.2,689.6 332.5,689.6 332.8,689.6 333.0,689.6 333.2,689.6 333.5,689.6 333.8,689.6 334.0,689.6 334.2,685.6 334.5,681.7 334.8,677.9 335.0,674.2 335.2,670.7 335.5,667.4 335.8,664.4 336.0,661.6 336.2,659.1 336.5,657.0 336.8,655.3 337.0,653.9 337.2,653.0 337.5,652.4 337.8,652.3 338.0,652.6 338.2,653.3 338.5,654.4 338.8,655.9 339.0,657.8 339.2,660.1 339.5,662.7 339.8,665.6 340.0,668.7 340.2,672.1 340.5,675.7 340.8,679.4 341.0,683.3 341.2,687.2 341.5,689.6 341.8,689.6 342.0,689.6 342.2,689.6 342.5,689.6 342.8,689.6 343.0,689.6 343.2,689.6 343.5,689.6 343.8,689.6 344.0,689.6 344.2,689.6 344.5,689.6 344.8,689.6 345.0,689.6 345.2,689.6 345.5,689.6 345.8,689.6 346.0,689.6 346.2,684.4 346.5,679.3 346.8,674.4 347.0,669.5 347.2,665.0 347.5,660.6 347.8,656.7 348.0,653.0 348.2,649.8 348.5,647.1 348.8,644.8 349.0,643.0 349.2,641.8 349.5,641.1 349.8,640.9 350.0,641.3 350.2,642.2 350.5,643.7 350.8,645.7 351.0,648.1 351.2,651.1 351.5,654.4 351.8,658.2 352.0,662.3 352.2,666.8 352.5,671.4 352.8,676.3 353.0,681.4 353.2,686.5 353.5,689.6 353.8,689.6 354.0,689.6 354.2,689.6 354.5,689.6 354.8,689.6 355.0,689.6 355.2,689.6 355.5,689.6 355.8,689.6 356.0,689.6 356.2,689.6 356.5,689.6 356.8,689.6 357.0,689.6 357.2,689.6 357.5,689.6 357.8,688.4 358.0,682.5 358.2,676.7 358.5,671.0 358.8,665.5 359.0,660.3 359.2,655.5 359.5,651.0 359.8,646.9 360.0,643.4 360.2,640.3 360.5,637.8 360.8,635.9 361.0,634.6 361.2,633.9 361.5,633.9 361.8,634.4 362.0,635.6 362.2,637.4 362.5,639.8 362.8,642.7 363.0,646.2 363.2,650.1 363.5,654.5 363.8,659.3 364.0,664.5 364.2,669.9 364.5,675.5 364.8,681.3 365.0,687.2 365.2,689.6 365.5,689.6 365.8,689.6 366.0,689.6 366.2,689.6 366.5,689.6 366.8,689.6 367.0,689.6 367.2,689.6 367.5,689.6 367.8,689.6 368.0,689.6 368.2,689.6 368.5,689.6 368.8,689.6 369.0,689.6 369.2,689.6 369.5,689.6 369.8,689.6 370.0,689.6 370.2,689.6 370.5,689.6 370.8,686.7 371.0,681.8 371.2,677.0 371.5,672.3 371.8,667.9 372.0,663.7 372.2,659.8 372.5,656.2 372.8,653.0 373.0,650.2 373.2,647.8 373.5,645.9 373.8,644.6 374.0,643.7 374.2,643.3 374.5,643.5 374.8,644.1 375.0,645.3 375.2,647.0 375.5,649.2 375.8,651.8 376.0,654.8 376.2,658.3 376.5,662.1 376.8,666.2 377.0,670.5 377.2,675.1 377.5,679.8 377.8,684.7 378.0,689.6 378.2,689.6 378.5,689.6 378.8,689.6 379.0,689.6 379.2,689.6 379.5,689.6 379.8,689.6 380.0,689.6 380.2,689.6 380.5,689.6 380.8,689.6 381.0,689.6 381.2,689.6 381.5,689.6 381.8,689.6 382.0,689.6 382.2,689.6 382.5,689.6 382.8,685.8 383.0,682.1 383.2,678.5 383.5,675.0 383.8,671.6 384.0,668.5 384.2,665.6 384.5,663.0 384.8,660.6 385.0,658.6 385.2,656.9 385.5,655.7 385.8,654.7 386.0,654.2 386.2,654.1 386.5,654.4 386.8,655.1 387.0,656.1 387.2,657.6 387.5,659.4 387.8,661.5 388.0,664.0 388.2,666.7 388.5,669.7 388.8,672.9 389.0,676.4 389.2,679.9 389.5,683.6 389.8,687.3 390.0,689.6 390.2,689.6 390.5,689.6 390.8,689.6 391.0,689.6 391.2,689.6 391.5,689.6 391.8,689.6 392.0,689.6 392.2,689.6 392.5,689.6 392.8,689.6 393.0,689.6 393.2,689.6 393.5,689.6 393.8,689.6 394.0,689.6 394.2,684.2 394.5,678.9 394.8,673.6 395.0,668.6 395.2,663.8 395.5,659.3 395.8,655.1 396.0,651.3 396.2,648.0 396.5,645.1 396.8,642.7 397.0,640.8 397.2,639.5 397.5,638.8 397.8,638.6 398.0,639.0 398.2,640.0 398.5,641.5 398.8,643.6 399.0,646.2 399.2,649.2 399.5,652.8 399.8,656.7 400.0,661.0 400.2,665.7 400.5,670.6 400.8,675.7 401.0,681.0 401.2,686.4 401.5,689.6 401.8,689.6 402.0,689.6 402.2,689.6 402.5,689.6 402.8,689.6 403.0,689.6 403.2,689.6 403.5,689.6 403.8,689.6 404.0,689.6 404.2,689.6 404.5,689.6 404.8,689.6 405.0,689.6 405.2,689.6 405.5,689.6 405.8,689.6 406.0,685.2 406.2,679.8 406.5,674.5 406.8,669.3 407.0,664.4 407.2,659.7 407.5,655.4 407.8,651.5 408.0,648.0 408.2,645.0 408.5,642.5 408.8,640.5 409.0,639.1 409.2,638.2 409.5,637.9 409.8,638.2 410.0,639.1 410.2,640.5 410.5,642.5 410.8,645.0 411.0,648.0 411.2,651.5 411.5,655.4 411.8,659.7 412.0,664.4 412.2,669.3 412.5,674.5 412.8,679.8 413.0,685.2 413.2,689.6 413.5,689.6 413.8,689.6 414.0,689.6 414.2,689.6 414.5,689.6 414.8,689.6 415.0,689.6 415.2,689.6 415.5,689.6 415.8,689.6 416.0,689.6 416.2,689.6 416.5,689.6 416.8,689.6 417.0,689.6 417.2,689.6 417.5,689.6 417.8,689.6 418.0,687.9 418.2,683.6 418.5,679.5 418.8,675.4 419.0,671.5 419.2,667.8 419.5,664.3 419.8,661.2 420.0,658.3 420.2,655.8 420.5,653.7 420.8,652.0 421.0,650.7 421.2,649.8 421.5,649.4 421.8,649.5 422.0,650.0 422.2,650.9 422.5,652.3 422.8,654.1 423.0,656.3 423.2,658.9 423.5,661.8 423.8,665.0 424.0,668.5 424.2,672.3 424.5,676.2 424.8,680.3 425.0,684.5 425.2,688.7 425.5,689.6 425.8,689.6 426.0,689.6 426.2,689.6 426.5,689.6 426.8,689.6 427.0,689.6 427.2,689.6 427.5,689.6 427.8,689.6 428.0,689.6 428.2,689.6 428.5,689.6 428.8,689.6 429.0,689.6 429.2,689.6 429.5,689.6 429.8,689.6 430.0,689.6 430.2,689.6 430.5,688.8 430.8,686.8 431.0,684.8 431.2,682.9 431.5,681.0 431.8,679.3 432.0,677.7 432.2,676.2 432.5,674.8 432.8,673.6 433.0,672.6 433.2,671.8 433.5,671.2 433.8,670.8 434.0,670.6 434.2,670.6 434.5,670.9 434.8,671.3 435.0,672.0 435.2,672.8 435.5,673.9 435.8,675.1 436.0,676.5 436.2,678.0 436.5,679.6 436.8,681.4 437.0,683.3 437.2,685.2 437.5,687.2 437.8,689.2 438.0,689.6 438.2,689.6 438.5,689.6 438.8,689.6 439.0,689.6 439.2,689.6 439.5,689.6 439.8,689.6 440.0,689.6 440.2,689.6 440.5,689.6 440.8,689.6 441.0,689.6 441.2,689.6 441.5,689.6 441.8,689.6 442.0,689.6 442.2,689.6 442.5,689.6 442.8,687.2 443.0,683.2 443.2,679.3 443.5,675.5 443.8,671.8 444.0,668.4 444.2,665.2 444.5,662.2 444.8,659.6 445.0,657.3 445.2,655.4 445.5,653.9 445.8,652.7 446.0,652.0 446.2,651.7 446.5,651.8 446.8,652.4 447.0,653.4 447.2,654.7 447.5,656.5 447.8,658.7 448.0,661.1 448.2,664.0 448.5,667.1 448.8,670.4 449.0,674.0 449.2,677.7 449.5,681.6 449.8,685.6 450.0,689.6 450.2,689.6 450.5,689.6 450.8,689.6 451.0,689.6" fill="none" stroke="#ff420e" stroke-width="3.4" stroke-linejoin="round" stroke-linecap="round"/>
<path d="M619.8,531.0 C620.2,534.5 621.3,545.4 622.0,550.6 C622.7,555.8 623.2,560.0 623.9,560.0 C624.6,558.6 625.2,545.2 625.8,543.0 C626.4,543.0 626.6,548.0 627.1,548.0 C627.6,546.5 627.9,535.7 628.6,534.8 C629.3,534.8 630.1,538.4 630.9,543.0 C631.7,547.6 632.1,560.6 632.8,560.6 C633.5,558.8 633.9,539.2 634.6,532.9 C635.3,526.6 635.8,527.0 636.5,525.4 C637.2,524.1 637.7,525.4 638.4,524.1 C639.1,522.6 639.6,517.2 640.3,517.2 C641.0,519.0 641.5,527.7 642.2,534.2 C642.9,540.7 643.3,553.1 644.1,553.1 C644.9,551.3 645.8,529.1 646.6,524.1 C647.4,524.1 647.7,525.4 648.5,525.4 C649.3,524.3 650.5,517.8 651.3,517.8 C652.1,519.1 652.0,526.5 652.9,532.9 C653.8,539.3 655.1,552.9 656.1,553.1 C657.1,553.1 657.8,536.0 658.6,534.2 C659.4,534.2 659.8,543.0 660.5,543.0 C661.2,541.8 661.8,528.9 662.6,527.3 C663.4,527.3 664.0,528.9 664.9,534.2 C665.8,539.5 666.5,556.7 667.4,556.9 C668.3,556.9 669.2,537.9 669.9,535.4 C670.6,535.4 670.5,543.0 671.2,543.0 C671.9,541.3 672.9,527.6 673.7,526.0 C674.5,526.0 674.8,530.0 675.6,534.2 C676.4,538.4 677.3,549.3 678.1,549.3 C678.9,546.1 679.2,522.2 680.0,516.5 C680.8,516.5 681.5,517.8 682.5,517.8 C683.5,516.2 684.5,507.7 685.3,507.7 C686.1,509.7 686.3,522.1 686.9,529.1 C687.5,536.1 688.0,546.8 688.8,546.8 C689.6,544.3 690.4,518.9 691.3,515.3 C692.2,515.3 693.0,526.6 693.9,526.6 C694.8,525.8 695.6,510.9 696.4,510.9 C697.2,512.0 697.6,523.8 698.3,532.9 C699.0,542.0 699.6,561.3 700.4,561.3 C701.2,558.6 701.8,523.4 702.7,517.8 C703.6,517.8 704.3,530.4 705.2,530.4 C706.1,529.5 706.7,512.8 707.5,512.8 C708.3,513.2 708.9,526.8 709.6,532.9 C710.3,539.0 710.7,546.8 711.5,546.8 C712.3,543.8 713.1,520.6 714.0,516.5 C714.9,516.5 715.7,524.1 716.5,524.1 C717.3,522.5 717.7,507.7 718.4,507.7 C719.1,508.4 719.5,519.4 720.3,527.9 C721.1,536.4 721.9,555.0 722.6,555.0 C723.3,551.5 723.3,516.0 724.1,508.4 C724.9,508.4 726.2,512.7 727.1,512.8 C728.0,512.8 728.2,509.1 729.0,509.1 C729.8,511.6 730.5,517.6 731.5,526.7 C732.5,535.8 733.6,558.6 734.6,559.5 C735.6,559.5 736.4,536.5 737.2,531.7 C738.0,531.7 738.3,533.0 739.1,533.0 C739.9,531.9 740.8,525.4 741.6,525.4 C742.4,526.1 742.8,530.4 743.5,536.8 C744.2,543.2 744.8,560.7 745.7,560.7 C746.6,560.0 747.7,537.1 748.5,533.0 C749.3,533.0 749.7,538.0 750.4,538.0 C751.1,536.6 751.8,525.4 752.5,525.4 C753.2,525.4 753.4,532.1 754.2,538.0 C755.0,543.9 755.9,558.2 756.7,558.2 C757.5,553.4 757.9,520.2 758.6,511.6 C759.3,510.3 759.6,511.6 760.5,510.3 C761.4,508.4 762.5,500.9 763.4,500.9 C764.3,502.7 764.7,513.7 765.5,520.4 C766.3,527.1 767.2,538.0 768.0,538.0 C768.8,534.6 769.2,506.3 769.9,501.5 C770.6,501.5 771.0,511.6 771.8,511.6 C772.6,510.5 773.5,495.2 774.3,495.2 C775.1,496.3 775.4,510.4 776.2,517.9 C777.0,525.4 777.8,536.8 778.7,536.8 C779.6,533.4 780.5,506.0 781.3,499.0 C782.1,497.7 782.3,498.6 783.2,497.7 C784.1,496.8 785.4,493.9 786.3,493.9 C787.2,496.9 787.5,506.2 788.2,514.1 C788.9,522.0 789.3,538.0 790.1,538.0 C790.9,536.4 791.7,510.7 792.6,505.3 C793.5,505.3 794.2,507.8 795.1,507.8 C796.0,506.6 796.6,498.4 797.4,498.4 C798.2,500.7 798.8,513.5 799.5,520.4 C800.2,527.3 800.6,536.8 801.4,536.8 C802.2,533.7 802.9,505.7 803.7,503.4 C804.5,503.4 805.0,523.5 805.8,524.2 C806.6,524.2 807.5,507.2 808.4,507.2 C809.3,507.2 810.0,515.9 810.9,524.2 C811.8,532.5 812.5,552.8 813.4,553.2 C814.3,553.2 815.2,531.7 815.9,526.7 C816.6,525.4 816.6,526.3 817.2,525.4 C817.8,524.5 818.5,521.7 819.3,521.7 C820.1,523.1 820.7,528.2 821.6,533.0 C822.5,537.8 823.1,548.1 824.1,548.1 C825.1,548.1 826.2,536.0 827.1,533.0 C828.0,531.7 828.2,533.0 829.0,531.7 C829.8,530.2 830.7,524.8 831.5,524.8 C832.3,525.0 832.7,530.6 833.4,533.0 C834.1,535.4 834.6,538.0 835.3,538.0 C836.0,532.6 836.5,509.4 837.2,502.8 C837.9,501.5 838.2,502.8 839.1,501.5 C840.0,499.8 841.3,493.3 842.2,493.3 C843.1,496.3 843.3,510.1 844.1,517.9 C844.9,525.7 845.8,536.8 846.6,536.8 C847.4,532.7 847.7,501.8 848.5,495.2 C849.3,495.2 850.1,500.2 851.0,500.2 C851.9,499.1 852.7,488.9 853.5,488.9 C854.3,491.0 854.7,503.1 855.4,511.6 C856.1,520.1 856.8,536.2 857.6,536.2 C858.4,532.8 858.9,500.3 859.8,492.7 C860.7,492.7 861.6,493.9 862.4,493.9 C863.2,493.0 863.7,487.6 864.5,487.6 C865.3,491.0 865.9,503.9 866.8,512.8 C867.7,521.7 868.5,536.8 869.3,536.8 C870.1,533.5 870.6,499.8 871.4,494.6 C872.2,494.6 872.8,507.8 873.7,507.8 C874.6,507.1 875.4,490.8 876.2,490.8 C877.0,491.7 877.4,504.3 878.1,512.8 C878.8,521.3 879.2,538.0 880.0,538.0 C880.8,535.4 881.6,504.7 882.5,498.4 C883.4,498.4 884.1,502.8 885.0,502.8 C885.9,502.5 886.5,496.5 887.3,496.5 C888.1,498.5 888.6,506.2 889.5,514.1 C890.4,522.0 891.4,539.7 892.4,540.6 C893.4,540.6 894.0,523.4 895.1,519.1 C896.2,516.6 897.7,516.6 898.7,516.6 C899.7,519.1 900.0,525.7 900.8,533.0 C901.6,540.3 902.3,556.9 903.3,556.9 C904.3,556.2 905.4,535.4 906.5,529.2 C907.6,523.0 908.6,522.3 909.6,522.3 C910.6,523.0 911.3,529.3 912.1,533.0 C912.9,536.7 913.3,543.1 914.0,543.1 C914.7,537.2 915.2,507.9 915.9,500.2 C916.6,500.2 916.8,500.2 917.8,500.2 C918.8,498.2 920.0,488.9 921.3,488.9 C922.6,495.5 923.9,536.1 925.0,536.8 C926.1,536.8 926.6,499.1 927.5,492.7 C928.4,492.7 929.1,501.5 930.0,501.5 C930.9,500.5 931.6,487.0 932.3,487.0 C933.0,488.1 933.1,498.7 933.8,507.8 C934.5,516.9 935.4,537.4 936.3,537.4 C937.2,534.4 937.9,499.2 938.8,491.4 C939.7,491.4 940.5,493.9 941.3,493.9 C942.1,493.0 942.5,486.4 943.2,486.4 C943.9,488.9 944.3,498.8 945.1,507.8 C945.9,516.8 946.6,536.2 947.4,536.2 C948.2,534.2 948.7,502.5 949.5,496.5 C950.3,496.5 951.2,502.8 952.1,502.8 C953.0,501.7 953.5,490.2 954.3,490.2 C955.1,491.1 955.6,499.9 956.5,507.8 C957.4,515.7 958.6,534.3 959.4,534.3 C960.2,530.9 960.3,496.2 960.9,488.9 C961.5,488.9 962.1,489.8 962.8,493.9 C963.5,498.0 964.0,511.6 964.7,511.6 C965.4,511.6 965.9,493.9 966.5,493.9 C967.1,495.0 967.6,513.6 967.8,517.9" fill="none" stroke="#004586" stroke-width="3.6" stroke-linejoin="round" stroke-linecap="round"/>
<path d="M619.8,555.6 C620.2,557.9 621.1,564.5 622.0,568.2 C622.9,571.9 623.7,576.4 624.6,576.4 C625.5,575.9 626.3,568.8 627.1,565.7 C627.9,562.6 628.3,559.9 629.0,559.4 C629.7,559.4 630.2,559.8 630.9,563.2 C631.6,566.6 632.0,578.3 632.8,578.3 C633.6,576.5 634.4,557.9 635.3,553.1 C636.2,551.8 636.8,551.8 637.8,551.8 C638.8,552.0 640.0,552.7 640.9,554.3 C641.8,555.9 642.2,557.4 642.8,560.6 C643.4,563.8 643.8,572.0 644.5,572.0 C645.2,570.6 645.4,557.4 646.6,553.1 C647.8,548.8 649.8,548.5 651.0,548.0 C652.2,548.0 652.7,548.0 653.5,550.6 C654.3,554.5 654.6,568.6 655.4,569.5 C656.2,569.5 656.9,558.6 658.0,555.6 C659.1,553.1 660.5,553.3 661.7,553.1 C662.9,553.1 664.0,553.1 664.9,554.3 C665.8,556.3 666.1,562.6 666.8,564.4 C667.5,564.4 667.9,564.4 668.7,564.4 C669.5,561.9 670.2,553.3 671.2,550.6 C672.2,549.3 673.4,549.3 674.3,549.3 C675.2,550.2 675.6,551.4 676.2,555.6 C676.8,559.8 677.0,572.6 677.7,572.6 C678.4,571.5 678.9,553.5 680.0,549.3 C681.1,549.3 682.4,549.3 683.8,549.3 C685.2,550.0 686.6,549.3 687.6,553.1 C688.6,557.0 688.8,570.7 689.5,570.7 C690.2,570.0 690.3,553.5 691.3,549.3 C692.3,547.4 693.7,547.4 695.1,547.4 C696.5,547.4 698.0,547.4 698.9,549.3 C699.8,551.7 699.5,560.6 700.2,560.6 C700.9,560.4 701.4,550.3 702.7,548.0 C704.1,548.0 706.4,548.0 707.7,548.0 C709.1,548.9 709.5,550.1 710.2,553.1 C710.9,556.1 710.8,564.4 711.5,564.4 C712.2,563.0 712.6,549.0 714.0,545.5 C715.4,544.9 717.6,544.9 719.1,544.9 C720.6,545.4 721.3,548.0 722.2,548.0 C723.1,547.9 723.2,545.2 724.1,544.3 C725.0,543.4 726.0,543.3 727.1,543.1 C728.2,543.1 729.3,543.1 730.2,543.1 C731.1,544.0 731.3,546.1 732.1,548.1 C732.9,550.1 733.7,554.4 734.6,554.4 C735.5,554.4 735.8,549.3 737.2,548.1 C738.6,547.5 741.0,547.5 742.2,547.5 C743.4,548.0 743.5,548.7 744.1,550.6 C744.7,552.5 744.9,558.2 745.7,558.2 C746.5,557.5 747.2,549.7 748.5,546.9 C749.8,544.1 751.8,542.7 752.9,542.5 C754.0,542.5 754.1,544.4 754.8,545.6 C755.5,546.8 755.9,549.4 756.7,549.4 C757.5,548.7 757.8,542.9 759.2,541.8 C760.6,541.8 762.9,542.0 764.3,543.1 C765.7,544.2 766.2,548.1 767.2,548.1 C768.2,548.0 768.5,544.1 769.9,542.5 C771.3,540.9 773.6,539.4 775.0,539.3 C776.4,539.3 776.7,540.6 777.5,541.8 C778.3,543.0 778.6,546.2 779.4,546.2 C780.2,545.6 780.7,539.5 781.9,538.7 C783.1,538.7 785.2,540.6 786.3,541.8 C787.4,543.0 787.5,543.9 788.2,545.6 C788.9,547.3 789.3,551.3 790.1,551.3 C790.9,550.3 791.2,542.2 792.6,539.9 C794.0,538.7 796.4,538.7 797.6,538.7 C798.8,539.3 798.8,540.7 799.5,543.1 C800.2,545.5 800.6,551.9 801.4,551.9 C802.2,551.0 802.5,540.5 803.9,538.0 C805.3,538.0 807.6,538.0 809.0,538.0 C810.4,539.1 810.6,542.8 811.5,544.3 C812.4,545.8 813.1,546.2 814.0,546.2 C814.9,545.9 815.6,543.2 816.5,542.5 C817.4,542.5 818.2,542.5 819.1,542.5 C820.0,543.1 820.8,542.8 821.6,545.6 C822.4,548.4 822.9,555.1 823.5,558.2 C824.1,561.3 823.9,562.6 824.7,562.6 C825.5,561.0 826.6,552.5 827.7,549.4 C828.8,546.3 829.9,545.8 830.9,545.6 C831.9,545.6 832.6,546.9 833.4,548.1 C834.2,549.3 834.6,552.5 835.3,552.5 C836.0,551.1 836.0,543.0 837.2,540.6 C838.4,539.3 840.7,539.3 842.2,539.3 C843.7,539.5 844.0,541.8 845.4,541.8 C846.8,541.7 848.1,539.3 849.8,538.7 C851.5,538.7 853.4,538.7 854.8,538.7 C856.1,539.4 856.3,542.4 857.3,542.5 C858.3,542.5 859.1,539.6 860.5,539.3 C861.9,539.3 863.4,539.7 864.9,540.6 C866.4,541.5 867.4,544.3 868.7,544.3 C870.1,544.1 870.8,540.0 872.4,539.3 C874.0,539.3 876.1,539.7 877.5,540.6 C878.9,541.5 879.1,544.3 880.0,544.3 C880.9,544.2 880.8,540.7 882.5,539.9 C884.2,539.9 887.7,539.9 889.5,539.9 C891.3,540.9 891.1,545.0 892.6,545.6 C894.1,545.6 896.1,543.3 897.6,543.1 C899.1,543.1 899.8,543.1 900.8,544.3 C901.8,546.6 902.4,555.2 903.3,555.7 C904.2,555.7 904.9,547.6 905.8,546.9 C906.7,546.9 907.5,551.9 908.4,551.9 C909.3,551.4 909.9,544.3 910.9,544.3 C911.9,544.8 913.1,554.4 914.0,554.4 C914.9,553.5 914.5,542.0 915.9,539.3 C917.3,539.3 919.9,539.3 921.6,539.3 C923.3,540.4 924.3,545.6 925.4,545.6 C926.5,545.6 926.2,540.1 927.5,539.3 C928.8,539.3 930.9,540.3 932.5,541.2 C934.1,542.1 934.9,544.3 936.3,544.3 C937.7,544.0 939.0,540.0 940.1,539.3 C941.2,539.3 941.2,539.6 942.6,540.6 C944.0,541.6 946.2,544.8 947.6,545.0 C949.0,545.0 949.1,542.6 950.2,541.8 C951.3,541.0 952.7,540.6 953.9,540.6 C955.1,541.1 955.8,544.3 957.1,544.3 C958.4,544.3 959.7,541.3 960.9,540.6 C962.1,540.6 962.8,540.6 964.0,540.6 C965.2,541.1 967.1,542.6 967.8,543.1" fill="none" stroke="#ff420e" stroke-width="3.2" stroke-linejoin="round" stroke-linecap="round"/>
<g><defs><radialGradient id="rg" cx="50%" cy="50%" r="50%"><stop offset="0" stop-color="#e42a0c"/><stop offset="0.75" stop-color="#ea3a10"/><stop offset="1" stop-color="#c03012"/></radialGradient><path id="arc" d="M 962 757.5 A 41 27 0 0 0 1043 757.5"/></defs><rect x="945" y="681" width="113" height="100" fill="#fff"/><g fill="none" stroke="#5fa3da" stroke-width="0.8"><ellipse cx="1002.5" cy="736" rx="46" ry="20" transform="rotate(-3 1002.5 736)"/><ellipse cx="1006" cy="733.5" rx="9.5" ry="39.5" transform="rotate(18 1006 733.5)"/></g><path d="M0,0 C9.2,-6.6 31.4,-6.6 37.0,0 C31.4,6.6 9.2,6.6 0,0Z" fill="#e8dcdc" stroke="#c9b5b6" stroke-width="0.3" transform="translate(1000.4 736.6) rotate(-0.4)"/><path d="M0,0 C9.5,-5.3 32.3,-5.3 38.0,0 C32.3,5.3 9.5,5.3 0,0Z" fill="#f0e6e6" stroke="#c9b5b6" stroke-width="0.3" transform="translate(1000.4 736.6) rotate(11.6)"/><path d="M0,0 C9.3,-5.3 31.6,-5.3 37.1,0 C31.6,5.3 9.3,5.3 0,0Z" fill="#e8dcdc" stroke="#c9b5b6" stroke-width="0.3" transform="translate(1000.4 736.6) rotate(23.8)"/><path d="M0,0 C8.8,-6.4 30.0,-6.4 35.3,0 C30.0,6.4 8.8,6.4 0,0Z" fill="#f2e9e9" stroke="#c9b5b6" stroke-width="0.3" transform="translate(1000.4 736.6) rotate(34.4)"/><path d="M0,0 C9.1,-5.8 30.9,-5.8 36.4,0 C30.9,5.8 9.1,5.8 0,0Z" fill="#f0e6e6" stroke="#c9b5b6" stroke-width="0.3" transform="translate(1000.4 736.6) rotate(48.8)"/><path d="M0,0 C9.3,-6.5 31.6,-6.5 37.2,0 C31.6,6.5 9.3,6.5 0,0Z" fill="#f2e9e9" stroke="#c9b5b6" stroke-width="0.3" transform="translate(1000.4 736.6) rotate(61.2)"/><path d="M0,0 C8.9,-5.4 30.3,-5.4 35.7,0 C30.3,5.4 8.9,5.4 0,0Z" fill="#f2e9e9" stroke="#c9b5b6" stroke-width="0.3" transform="translate(1000.4 736.6) rotate(68.5)"/><path d="M0,0 C9.0,-6.0 30.7,-6.0 36.1,0 C30.7,6.0 9.0,6.0 0,0Z" fill="#eee3e3" stroke="#c9b5b6" stroke-width="0.3" transform="translate(1000.4 736.6) rotate(86.2)"/><path d="M0,0 C9.3,-5.9 31.7,-5.9 37.2,0 C31.7,5.9 9.3,5.9 0,0Z" fill="#f2e9e9" stroke="#c9b5b6" stroke-width="0.3" transform="translate(1000.4 736.6) rotate(96.2)"/><path d="M0,0 C9.0,-6.7 30.6,-6.7 36.0,0 C30.6,6.7 9.0,6.7 0,0Z" fill="#f2e9e9" stroke="#c9b5b6" stroke-width="0.3" transform="translate(1000.4 736.6) rotate(107.7)"/><path d="M0,0 C9.0,-5.4 30.7,-5.4 36.1,0 C30.7,5.4 9.0,5.4 0,0Z" fill="#f5eeee" stroke="#c9b5b6" stroke-width="0.3" transform="translate(1000.4 736.6) rotate(121.7)"/><path d="M0,0 C9.2,-5.2 31.4,-5.2 37.0,0 C31.4,5.2 9.2,5.2 0,0Z" fill="#f2e9e9" stroke="#c9b5b6" stroke-width="0.3" transform="translate(1000.4 736.6) rotate(128.2)"/><path d="M0,0 C9.1,-6.7 30.9,-6.7 36.4,0 C30.9,6.7 9.1,6.7 0,0Z" fill="#f2e9e9" stroke="#c9b5b6" stroke-width="0.3" transform="translate(1000.4 736.6) rotate(146.8)"/><path d="M0,0 C9.6,-5.1 32.5,-5.1 38.2,0 C32.5,5.1 9.6,5.1 0,0Z" fill="#e8dcdc" stroke="#c9b5b6" stroke-width="0.3" transform="translate(1000.4 736.6) rotate(153.7)"/><path d="M0,0 C9.1,-5.1 30.9,-5.1 36.4,0 C30.9,5.1 9.1,5.1 0,0Z" fill="#eee3e3" stroke="#c9b5b6" stroke-width="0.3" transform="translate(1000.4 736.6) rotate(171.8)"/><path d="M0,0 C9.0,-5.2 30.6,-5.2 35.9,0 C30.6,5.2 9.0,5.2 0,0Z" fill="#f5eeee" stroke="#c9b5b6" stroke-width="0.3" transform="translate(1000.4 736.6) rotate(182.2)"/><path d="M0,0 C9.1,-6.6 31.0,-6.6 36.4,0 C31.0,6.6 9.1,6.6 0,0Z" fill="#eee3e3" stroke="#c9b5b6" stroke-width="0.3" transform="translate(1000.4 736.6) rotate(188.1)"/><path d="M0,0 C8.8,-5.1 30.1,-5.1 35.4,0 C30.1,5.1 8.8,5.1 0,0Z" fill="#e8dcdc" stroke="#c9b5b6" stroke-width="0.3" transform="translate(1000.4 736.6) rotate(202.0)"/><path d="M0,0 C9.2,-5.8 31.4,-5.8 37.0,0 C31.4,5.8 9.2,5.8 0,0Z" fill="#eee3e3" stroke="#c9b5b6" stroke-width="0.3" transform="translate(1000.4 736.6) rotate(213.4)"/><path d="M0,0 C9.4,-5.7 32.0,-5.7 37.7,0 C32.0,5.7 9.4,5.7 0,0Z" fill="#e8dcdc" stroke="#c9b5b6" stroke-width="0.3" transform="translate(1000.4 736.6) rotate(231.9)"/><path d="M0,0 C9.1,-5.4 31.0,-5.4 36.5,0 C31.0,5.4 9.1,5.4 0,0Z" fill="#f5eeee" stroke="#c9b5b6" stroke-width="0.3" transform="translate(1000.4 736.6) rotate(236.9)"/><path d="M0,0 C9.6,-6.0 32.7,-6.0 38.4,0 C32.7,6.0 9.6,6.0 0,0Z" fill="#dccbcb" stroke="#c9b5b6" stroke-width="0.3" transform="translate(1000.4 736.6) rotate(254.9)"/><path d="M0,0 C9.1,-6.5 30.9,-6.5 36.4,0 C30.9,6.5 9.1,6.5 0,0Z" fill="#e0d0d0" stroke="#c9b5b6" stroke-width="0.3" transform="translate(1000.4 736.6) rotate(261.7)"/><path d="M0,0 C8.8,-5.3 29.9,-5.3 35.1,0 C29.9,5.3 8.8,5.3 0,0Z" fill="#d6c4c4" stroke="#c9b5b6" stroke-width="0.3" transform="translate(1000.4 736.6) rotate(276.6)"/><path d="M0,0 C9.4,-5.6 32.0,-5.6 37.7,0 C32.0,5.6 9.4,5.6 0,0Z" fill="#d6c4c4" stroke="#c9b5b6" stroke-width="0.3" transform="translate(1000.4 736.6) rotate(286.1)"/><path d="M0,0 C8.8,-5.4 30.0,-5.4 35.3,0 C30.0,5.4 8.8,5.4 0,0Z" fill="#e0d0d0" stroke="#c9b5b6" stroke-width="0.3" transform="translate(1000.4 736.6) rotate(299.1)"/><path d="M0,0 C9.3,-5.7 31.5,-5.7 37.1,0 C31.5,5.7 9.3,5.7 0,0Z" fill="#d6c4c4" stroke="#c9b5b6" stroke-width="0.3" transform="translate(1000.4 736.6) rotate(309.9)"/><path d="M0,0 C9.3,-6.5 31.5,-6.5 37.1,0 C31.5,6.5 9.3,6.5 0,0Z" fill="#dccbcb" stroke="#c9b5b6" stroke-width="0.3" transform="translate(1000.4 736.6) rotate(321.0)"/><path d="M0,0 C8.9,-5.3 30.3,-5.3 35.6,0 C30.3,5.3 8.9,5.3 0,0Z" fill="#eee3e3" stroke="#c9b5b6" stroke-width="0.3" transform="translate(1000.4 736.6) rotate(338.9)"/><path d="M0,0 C9.0,-5.3 30.5,-5.3 35.9,0 C30.5,5.3 9.0,5.3 0,0Z" fill="#f0e6e6" stroke="#c9b5b6" stroke-width="0.3" transform="translate(1000.4 736.6) rotate(350.5)"/><circle cx="1000.4" cy="736.6" r="12.2" fill="url(#rg)"/><circle cx="1000.4" cy="736.6" r="0.6" fill="#601010"/><g fill="none" stroke="#5fa3da" stroke-width="0.6" stroke-opacity="0.35"><ellipse cx="1002.5" cy="736" rx="46" ry="20" transform="rotate(-3 1002.5 736)"/><ellipse cx="1006" cy="733.5" rx="9.5" ry="39.5" transform="rotate(18 1006 733.5)"/></g><g transform="translate(1004 706) rotate(-25)"><ellipse cx="-2" cy="-3.2" rx="3.2" ry="2.2" fill="#f6f6f6" stroke="#8a8a8a" stroke-width="0.5"/><ellipse cx="2" cy="3.2" rx="3.2" ry="2.2" fill="#f0f0f0" stroke="#8a8a8a" stroke-width="0.5"/><ellipse cx="0" cy="0" rx="4.5" ry="2.8" fill="#e8c018"/><rect x="-1.4" y="-2.7" width="1.3" height="5.4" fill="#1a1a1a"/><rect x="1.2" y="-2.6" width="1.3" height="5.2" fill="#1a1a1a"/><circle cx="-4.2" cy="0" r="1.7" fill="#1a1a1a"/></g><g transform="translate(1024.5 729.5) rotate(50)"><ellipse cx="-2" cy="-3.2" rx="3.2" ry="2.2" fill="#f6f6f6" stroke="#8a8a8a" stroke-width="0.5"/><ellipse cx="2" cy="3.2" rx="3.2" ry="2.2" fill="#f0f0f0" stroke="#8a8a8a" stroke-width="0.5"/><ellipse cx="0" cy="0" rx="4.5" ry="2.8" fill="#e8c018"/><rect x="-1.4" y="-2.7" width="1.3" height="5.4" fill="#1a1a1a"/><rect x="1.2" y="-2.6" width="1.3" height="5.2" fill="#1a1a1a"/><circle cx="-4.2" cy="0" r="1.7" fill="#1a1a1a"/></g><g transform="translate(980.5 743) rotate(-15)"><ellipse cx="-2" cy="-3.2" rx="3.2" ry="2.2" fill="#f6f6f6" stroke="#8a8a8a" stroke-width="0.5"/><ellipse cx="2" cy="3.2" rx="3.2" ry="2.2" fill="#f0f0f0" stroke="#8a8a8a" stroke-width="0.5"/><ellipse cx="0" cy="0" rx="4.5" ry="2.8" fill="#e8c018"/><rect x="-1.4" y="-2.7" width="1.3" height="5.4" fill="#1a1a1a"/><rect x="1.2" y="-2.6" width="1.3" height="5.2" fill="#1a1a1a"/><circle cx="-4.2" cy="0" r="1.7" fill="#1a1a1a"/></g><text font-size="6.2" font-weight="700" fill="#2a86d2" letter-spacing="-0.15"><textPath href="#arc" startOffset="50%" text-anchor="middle">COMITATO NUCLEARE E RAGIONE</textPath></text></g>
</svg></body></html>
